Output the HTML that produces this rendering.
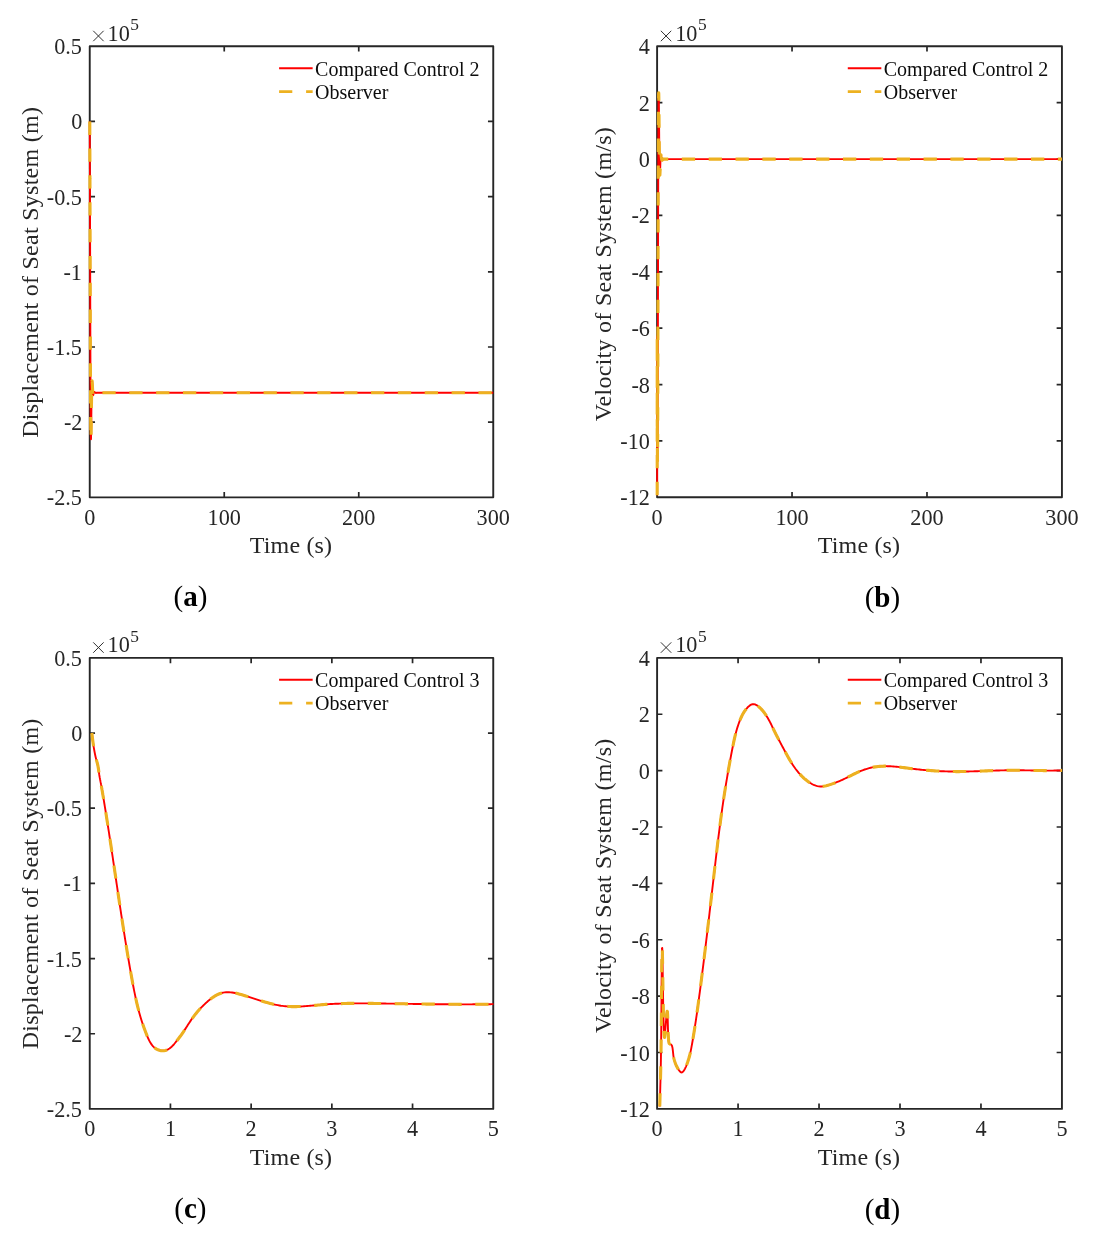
<!DOCTYPE html>
<html><head><meta charset="utf-8"><title>Figure</title>
<style>html,body{margin:0;padding:0;background:#fff}svg{display:block;will-change:transform}</style></head>
<body>
<svg width="1103" height="1240" viewBox="0 0 1103 1240" font-family="'Liberation Serif', serif" fill="#262626">
<rect width="1103" height="1240" fill="#fff"/>
<clipPath id="cpa"><rect x="87.74" y="44.3" width="407.51" height="455.05"/></clipPath>
<path d="M224.24,497.35v-5.3M224.24,46.3v5.3M358.75,497.35v-5.3M358.75,46.3v5.3M89.74,121.47h5.3M493.25,121.47h-5.3M89.74,196.65h5.3M493.25,196.65h-5.3M89.74,271.82h5.3M493.25,271.82h-5.3M89.74,347.00h5.3M493.25,347.00h-5.3M89.74,422.18h5.3M493.25,422.18h-5.3" stroke="#262626" stroke-width="1.7" fill="none"/>
<rect x="89.74" y="46.3" width="403.51" height="451.05" fill="none" stroke="#262626" stroke-width="1.9" stroke-linejoin="round"/>
<g clip-path="url(#cpa)" fill="none" stroke-linejoin="round">
<path d="M89.78,121.60 L89.78,122.36 L89.78,123.11 L89.78,123.86 L89.78,124.62 L89.78,125.37 L89.78,126.12 L89.79,126.88 L89.79,127.63 L89.79,128.38 L89.79,129.13 L89.79,129.88 L89.79,130.63 L89.80,131.38 L89.80,132.13 L89.80,132.88 L89.80,133.63 L89.80,134.38 L89.80,135.13 L89.81,135.88 L89.81,136.63 L89.81,137.37 L89.81,138.12 L89.82,138.87 L89.82,139.61 L89.82,140.36 L89.82,141.10 L89.82,141.85 L89.83,142.59 L89.83,143.33 L89.83,144.07 L89.84,144.81 L89.84,145.55 L89.84,146.29 L89.84,147.02 L89.85,147.75 L89.85,148.48 L89.85,149.21 L89.86,149.94 L89.86,150.67 L89.86,151.41 L89.87,152.14 L89.87,152.87 L89.87,153.61 L89.88,154.35 L89.88,155.09 L89.88,155.84 L89.88,156.59 L89.88,157.33 L89.89,158.08 L89.89,158.84 L89.89,159.59 L89.89,160.34 L89.89,161.09 L89.89,161.56 L89.90,162.05 L89.90,162.53 L89.90,162.99 L89.90,163.44 L89.90,163.88 L89.90,164.30 L89.90,164.71 L89.90,165.10 L89.90,165.49 L89.91,165.87 L89.91,166.24 L89.91,166.60 L89.91,166.96 L89.91,167.32 L89.91,167.67 L89.91,168.02 L89.91,168.37 L89.91,168.71 L89.92,169.05 L89.92,169.40 L89.92,169.74 L89.92,170.08 L89.92,170.43 L89.92,170.77 L89.92,171.12 L89.92,171.47 L89.92,171.81 L89.93,172.17 L89.93,172.52 L89.93,172.88 L89.93,173.24 L89.93,173.60 L89.93,173.97 L89.93,174.33 L89.93,174.70 L89.94,175.08 L89.94,175.45 L89.94,175.83 L89.94,176.21 L89.94,176.59 L89.94,176.97 L89.94,177.36 L89.94,177.74 L89.94,178.13 L89.95,178.52 L89.95,178.91 L89.95,179.30 L89.95,179.69 L89.95,180.09 L89.95,180.48 L89.95,180.88 L89.95,181.28 L89.95,181.67 L89.96,182.07 L89.96,182.47 L89.96,182.87 L89.96,183.27 L89.96,183.67 L89.96,184.08 L89.96,185.16 L89.97,186.70 L89.97,188.24 L89.98,189.79 L89.98,191.33 L89.99,192.88 L89.99,194.42 L89.99,195.97 L90.00,197.51 L90.00,199.06 L90.01,200.60 L90.01,202.15 L90.01,203.70 L90.02,205.25 L90.02,206.79 L90.03,208.34 L90.03,209.89 L90.04,211.44 L90.04,212.98 L90.04,214.53 L90.05,216.08 L90.05,217.63 L90.06,219.18 L90.06,220.73 L90.06,222.28 L90.07,223.83 L90.07,225.38 L90.08,226.92 L90.08,228.47 L90.08,230.02 L90.09,231.57 L90.09,233.13 L90.09,234.68 L90.10,236.23 L90.10,237.78 L90.11,239.33 L90.11,240.88 L90.11,242.43 L90.12,243.98 L90.12,245.53 L90.13,247.08 L90.13,248.63 L90.13,250.18 L90.14,251.74 L90.14,253.29 L90.14,254.84 L90.15,256.39 L90.15,257.94 L90.16,259.49 L90.16,261.04 L90.16,262.59 L90.17,264.15 L90.17,265.70 L90.18,267.25 L90.18,268.80 L90.18,270.35 L90.19,271.90 L90.19,273.45 L90.19,275.00 L90.20,276.55 L90.20,278.11 L90.21,279.66 L90.21,281.21 L90.21,282.76 L90.22,284.31 L90.22,285.86 L90.23,287.41 L90.23,288.96 L90.23,290.51 L90.24,292.06 L90.24,293.61 L90.25,295.16 L90.25,296.71 L90.25,298.26 L90.26,299.81 L90.26,301.35 L90.26,302.90 L90.27,304.45 L90.27,306.00 L90.28,307.55 L90.28,309.10 L90.28,310.64 L90.29,312.19 L90.29,313.74 L90.30,315.28 L90.30,316.83 L90.30,318.38 L90.31,319.92 L90.31,321.47 L90.32,323.01 L90.32,324.56 L90.33,326.11 L90.33,327.65 L90.33,329.19 L90.34,330.74 L90.34,332.28 L90.35,333.83 L90.35,335.37 L90.35,336.91 L90.36,338.45 L90.36,340.00 L90.37,341.54 L90.37,343.08 L90.38,344.62 L90.38,346.16 L90.38,347.70 L90.39,349.24 L90.39,350.78 L90.40,352.32 L90.40,353.86 L90.41,355.40 L90.41,356.93 L90.42,358.47 L90.42,360.01 L90.42,361.54 L90.43,363.08 L90.43,364.62 L90.44,366.15 L90.44,367.68 L90.45,369.22 L90.45,370.75 L90.46,372.29 L90.46,373.82 L90.47,375.35 L90.47,376.88 L90.48,378.41 L90.48,379.94 L90.49,381.47 L90.49,383.00 L90.50,384.53 L90.50,386.05 L90.51,387.58 L90.52,389.10 L90.52,390.63 L90.53,392.15 L90.53,393.67 L90.54,395.20 L90.55,396.72 L90.55,398.24 L90.56,399.76 L90.57,401.27 L90.57,402.79 L90.58,404.31 L90.59,405.82 L90.59,407.33 L90.60,408.85 L90.61,410.36 L90.62,411.87 L90.63,413.38 L90.64,414.88 L90.64,416.39 L90.65,417.89 L90.66,419.40 L90.67,420.90 L90.68,422.40 L90.69,423.90 L90.70,425.40 L90.71,426.89 L90.73,428.36 L90.74,429.80 L90.75,431.19 L90.76,432.52 L90.78,433.77 L90.80,434.94 L90.81,436.00 L90.83,436.94 L90.86,437.74 L90.88,438.40 L90.90,438.90 L90.93,439.22 L90.95,439.35 L90.98,439.29 L91.00,439.03 L91.02,438.57 L91.05,437.91 L91.07,437.09 L91.09,436.12 L91.11,435.03 L91.13,433.85 L91.15,432.61 L91.17,431.34 L91.18,430.05 L91.20,428.79 L91.21,427.56 L91.23,426.35 L91.25,425.14 L91.26,423.92 L91.28,422.67 L91.29,421.40 L91.30,420.10 L91.32,418.79 L91.33,417.46 L91.35,416.13 L91.36,414.79 L91.38,413.45 L91.39,412.12 L91.41,410.79 L91.42,409.48 L91.43,408.18 L91.45,406.91 L91.46,405.66 L91.48,404.43 L91.50,403.22 L91.51,402.03 L91.53,400.85 L91.54,399.70 L91.56,398.55 L91.58,397.41 L91.60,396.29 L91.61,395.17 L91.63,394.06 L91.65,392.96 L91.67,391.86 L91.69,390.76 L91.71,389.68 L91.73,388.63 L91.75,387.60 L91.78,386.62 L91.80,385.68 L91.82,384.81 L91.84,384.00 L91.87,383.26 L91.89,382.62 L91.92,382.06 L91.94,381.61 L91.96,381.26 L91.99,381.02 L92.01,380.87 L92.04,380.82 L92.06,380.85 L92.09,380.95 L92.11,381.12 L92.14,381.35 L92.16,381.63 L92.19,381.96 L92.21,382.33 L92.24,382.73 L92.26,383.15 L92.29,383.58 L92.31,384.03 L92.34,384.50 L92.36,384.97 L92.39,385.45 L92.42,385.94 L92.44,386.43 L92.47,386.92 L92.49,387.42 L92.52,387.91 L92.54,388.40 L92.57,388.89 L92.59,389.38 L92.62,389.85 L92.64,390.31 L92.67,390.77 L92.70,391.21 L92.72,391.64 L92.75,392.04 L92.77,392.44 L92.80,392.81 L92.82,393.16 L92.85,393.48 L92.87,393.78 L92.90,394.05 L92.93,394.30 L92.95,394.51 L92.98,394.69 L93.00,394.84 L93.03,394.97 L93.05,395.06 L93.08,395.13 L93.11,395.18 L93.13,395.20 L93.16,395.20 L93.18,395.19 L93.21,395.15 L93.23,395.10 L93.26,395.03 L93.29,394.95 L93.31,394.85 L93.34,394.74 L93.36,394.63 L93.39,394.50 L93.42,394.37 L93.44,394.23 L93.47,394.09 L93.49,393.95 L93.52,393.80 L93.55,393.66 L93.57,393.52 L93.60,393.38 L93.62,393.24 L93.65,393.11 L93.67,392.99 L93.70,392.88 L93.73,392.77 L93.75,392.67 L93.78,392.58 L93.81,392.50 L93.83,392.42 L93.86,392.35 L93.88,392.29 L93.91,392.23 L93.94,392.18 L93.96,392.13 L93.99,392.09 L94.01,392.05 L94.04,392.02 L94.07,392.00 L94.09,391.98 L94.12,391.96 L94.14,391.95 L94.17,391.94 L94.20,391.93 L94.22,391.93 L94.25,391.93 L94.27,391.93 L94.30,391.94 L94.33,391.94 L94.35,391.96 L94.38,391.97 L94.41,391.98 L94.43,392.00 L94.46,392.01 L94.48,392.03 L94.51,392.05 L94.54,392.07 L94.56,392.09 L94.59,392.10 L94.61,392.12 L94.64,392.14 L94.67,392.16 L94.69,392.18 L94.72,392.20 L94.75,392.23 L94.77,392.25 L94.80,392.27 L94.82,392.29 L94.85,392.31 L94.88,392.33 L94.90,392.35 L94.93,392.37 L94.96,392.39 L94.98,392.41 L95.01,392.43 L95.03,392.45 L95.06,392.48 L95.09,392.50 L95.11,392.52 L95.14,392.54 L95.16,392.56 L95.19,392.58 L95.22,392.60 L95.24,392.61 L95.27,392.63 L95.30,392.65 L95.32,392.67 L95.35,392.69 L95.37,392.70 L95.40,392.72 L95.43,392.74 L95.45,392.75 L95.48,392.77 L95.51,392.78 L95.53,392.80 L95.56,392.81 L95.58,392.83 L95.61,392.84 L95.64,392.85 L95.66,392.86 L95.69,392.87 L95.71,392.88 L95.74,392.89 L95.77,392.90 L95.79,392.91 L95.82,392.91 L95.85,392.92 L95.87,392.92 L95.90,392.93 L95.92,392.93 L95.95,392.93 L95.98,392.94 L96.00,392.94 L96.03,392.94 L96.05,392.93 L96.08,392.93 L96.11,392.93 L96.13,392.92 L96.16,392.92 L96.18,392.91 L96.21,392.90 L96.24,392.89 L96.26,392.88 L96.29,392.87 L96.31,392.86 L96.34,392.84 L96.37,392.83 L96.39,392.81 L96.42,392.79 L96.44,392.77 L96.47,392.75 L493.25,392.75" stroke="#ff0000" stroke-width="1.9"/>
<path d="M89.78,121.60 L89.78,122.36 L89.78,123.11 L89.78,123.86 L89.78,124.62 L89.78,125.37 L89.78,126.12 L89.79,126.88 L89.79,127.63 L89.79,128.38 L89.79,129.13 L89.79,129.88 L89.79,130.63 L89.80,131.38 L89.80,132.13 L89.80,132.88 L89.80,133.63 L89.80,134.38 L89.80,135.13 L89.81,135.88 L89.81,136.63 L89.81,137.37 L89.81,138.12 L89.82,138.87 L89.82,139.61 L89.82,140.36 L89.82,141.10 L89.82,141.85 L89.83,142.59 L89.83,143.33 L89.83,144.07 L89.84,144.81 L89.84,145.55 L89.84,146.29 L89.84,147.02 L89.85,147.75 L89.85,148.48 L89.85,149.21 L89.86,149.94 L89.86,150.67 L89.86,151.41 L89.87,152.14 L89.87,152.87 L89.87,153.61 L89.88,154.35 L89.88,155.09 L89.88,155.84 L89.88,156.59 L89.88,157.33 L89.89,158.08 L89.89,158.84 L89.89,159.59 L89.89,160.34 L89.89,161.09 L89.89,161.56 L89.90,162.05 L89.90,162.53 L89.90,162.99 L89.90,163.44 L89.90,163.88 L89.90,164.30 L89.90,164.71 L89.90,165.10 L89.90,165.49 L89.91,165.87 L89.91,166.24 L89.91,166.60 L89.91,166.96 L89.91,167.32 L89.91,167.67 L89.91,168.02 L89.91,168.37 L89.91,168.71 L89.92,169.05 L89.92,169.40 L89.92,169.74 L89.92,170.08 L89.92,170.43 L89.92,170.77 L89.92,171.12 L89.92,171.47 L89.92,171.81 L89.93,172.17 L89.93,172.52 L89.93,172.88 L89.93,173.24 L89.93,173.60 L89.93,173.97 L89.93,174.33 L89.93,174.70 L89.94,175.08 L89.94,175.45 L89.94,175.83 L89.94,176.21 L89.94,176.59 L89.94,176.97 L89.94,177.36 L89.94,177.74 L89.94,178.13 L89.95,178.52 L89.95,178.91 L89.95,179.30 L89.95,179.69 L89.95,180.09 L89.95,180.48 L89.95,180.88 L89.95,181.28 L89.95,181.67 L89.96,182.07 L89.96,182.47 L89.96,182.87 L89.96,183.27 L89.96,183.67 L89.96,184.08 L89.96,185.16 L89.97,186.70 L89.97,188.24 L89.98,189.79 L89.98,191.33 L89.99,192.88 L89.99,194.42 L89.99,195.97 L90.00,197.51 L90.00,199.06 L90.01,200.60 L90.01,202.15 L90.01,203.70 L90.02,205.25 L90.02,206.79 L90.03,208.34 L90.03,209.89 L90.04,211.44 L90.04,212.98 L90.04,214.53 L90.05,216.08 L90.05,217.63 L90.06,219.18 L90.06,220.73 L90.06,222.28 L90.07,223.83 L90.07,225.38 L90.08,226.92 L90.08,228.47 L90.08,230.02 L90.09,231.57 L90.09,233.13 L90.09,234.68 L90.10,236.23 L90.10,237.78 L90.11,239.33 L90.11,240.88 L90.11,242.43 L90.12,243.98 L90.12,245.53 L90.13,247.08 L90.13,248.63 L90.13,250.18 L90.14,251.74 L90.14,253.29 L90.14,254.84 L90.15,256.39 L90.15,257.94 L90.16,259.49 L90.16,261.04 L90.16,262.59 L90.17,264.15 L90.17,265.70 L90.18,267.25 L90.18,268.80 L90.18,270.35 L90.19,271.90 L90.19,273.45 L90.19,275.00 L90.20,276.55 L90.20,278.11 L90.21,279.66 L90.21,281.21 L90.21,282.76 L90.22,284.31 L90.22,285.86 L90.23,287.41 L90.23,288.96 L90.23,290.51 L90.24,292.06 L90.24,293.61 L90.25,295.16 L90.25,296.71 L90.25,298.26 L90.26,299.81 L90.26,301.35 L90.26,302.90 L90.27,304.45 L90.27,306.00 L90.28,307.55 L90.28,309.10 L90.28,310.64 L90.29,312.19 L90.29,313.74 L90.30,315.28 L90.30,316.83 L90.30,318.38 L90.31,319.92 L90.31,321.47 L90.32,323.01 L90.32,324.56 L90.33,326.11 L90.33,327.65 L90.33,329.19 L90.34,330.74 L90.34,332.28 L90.35,333.83 L90.35,335.37 L90.35,336.91 L90.36,338.45 L90.36,340.00 L90.37,341.54 L90.37,343.08 L90.38,344.62 L90.38,346.16 L90.38,347.70 L90.39,349.24 L90.39,350.78 L90.40,352.32 L90.40,353.86 L90.41,355.40 L90.41,356.93 L90.42,358.47 L90.42,360.01 L90.42,361.54 L90.43,363.08 L90.43,364.62 L90.44,366.15 L90.44,367.68 L90.45,369.22 L90.45,370.75 L90.46,372.29 L90.46,373.82 L90.47,375.35 L90.47,376.88 L90.48,378.41 L90.48,379.94 L90.49,381.47 L90.49,383.00 L90.50,384.53 L90.50,386.05 L90.51,387.58 L90.52,389.10 L90.52,390.63 L90.53,392.15 L90.53,393.67 L90.54,395.20 L90.55,396.72 L90.55,398.24 L90.56,399.76 L90.57,401.27 L90.57,402.79 L90.58,404.31 L90.59,405.82 L90.59,407.33 L90.60,408.85 L90.61,410.36 L90.62,411.87 L90.63,413.38 L90.64,414.88 L90.64,416.39 L90.65,417.89 L90.66,419.40 L90.67,420.90 L90.68,422.40 L90.69,423.90 L90.70,425.40 L90.71,426.89 L90.73,428.36 L90.74,429.80 L90.75,431.19 L90.76,432.52 L90.78,433.77 L90.80,434.94 L90.81,436.00 L90.83,436.94 L90.86,437.74 L90.88,438.40 L90.90,438.90 L90.93,439.22 L90.95,439.35 L90.98,439.29 L91.00,439.03 L91.02,438.57 L91.05,437.91 L91.07,437.09 L91.09,436.12 L91.11,435.03 L91.13,433.85 L91.15,432.61 L91.17,431.34 L91.18,430.05 L91.20,428.79 L91.21,427.56 L91.23,426.35 L91.25,425.14 L91.26,423.92 L91.28,422.67 L91.29,421.40 L91.30,420.10 L91.32,418.79 L91.33,417.46 L91.35,416.13 L91.36,414.79 L91.38,413.45 L91.39,412.12 L91.41,410.79 L91.42,409.48 L91.43,408.18 L91.45,406.91 L91.46,405.66 L91.48,404.43 L91.50,403.22 L91.51,402.03 L91.53,400.85 L91.54,399.70 L91.56,398.55 L91.58,397.41 L91.60,396.29 L91.61,395.17 L91.63,394.06 L91.65,392.96 L91.67,391.86 L91.69,390.76 L91.71,389.68 L91.73,388.63 L91.75,387.60 L91.78,386.62 L91.80,385.68 L91.82,384.81 L91.84,384.00 L91.87,383.26 L91.89,382.62 L91.92,382.06 L91.94,381.61 L91.96,381.26 L91.99,381.02 L92.01,380.87 L92.04,380.82 L92.06,380.85 L92.09,380.95 L92.11,381.12 L92.14,381.35 L92.16,381.63 L92.19,381.96 L92.21,382.33 L92.24,382.73 L92.26,383.15 L92.29,383.58 L92.31,384.03 L92.34,384.50 L92.36,384.97 L92.39,385.45 L92.42,385.94 L92.44,386.43 L92.47,386.92 L92.49,387.42 L92.52,387.91 L92.54,388.40 L92.57,388.89 L92.59,389.38 L92.62,389.85 L92.64,390.31 L92.67,390.77 L92.70,391.21 L92.72,391.64 L92.75,392.04 L92.77,392.44 L92.80,392.81 L92.82,393.16 L92.85,393.48 L92.87,393.78 L92.90,394.05 L92.93,394.30 L92.95,394.51 L92.98,394.69 L93.00,394.84 L93.03,394.97 L93.05,395.06 L93.08,395.13 L93.11,395.18 L93.13,395.20 L93.16,395.20 L93.18,395.19 L93.21,395.15 L93.23,395.10 L93.26,395.03 L93.29,394.95 L93.31,394.85 L93.34,394.74 L93.36,394.63 L93.39,394.50 L93.42,394.37 L93.44,394.23 L93.47,394.09 L93.49,393.95 L93.52,393.80 L93.55,393.66 L93.57,393.52 L93.60,393.38 L93.62,393.24 L93.65,393.11 L93.67,392.99 L93.70,392.88 L93.73,392.77 L93.75,392.67 L93.78,392.58 L93.81,392.50 L93.83,392.42 L93.86,392.35 L93.88,392.29 L93.91,392.23 L93.94,392.18 L93.96,392.13 L93.99,392.09 L94.01,392.05 L94.04,392.02 L94.07,392.00 L94.09,391.98 L94.12,391.96 L94.14,391.95 L94.17,391.94 L94.20,391.93 L94.22,391.93 L94.25,391.93 L94.27,391.93 L94.30,391.94 L94.33,391.94 L94.35,391.96 L94.38,391.97 L94.41,391.98 L94.43,392.00 L94.46,392.01 L94.48,392.03 L94.51,392.05 L94.54,392.07 L94.56,392.09 L94.59,392.10 L94.61,392.12 L94.64,392.14 L94.67,392.16 L94.69,392.18 L94.72,392.20 L94.75,392.23 L94.77,392.25 L94.80,392.27 L94.82,392.29 L94.85,392.31 L94.88,392.33 L94.90,392.35 L94.93,392.37 L94.96,392.39 L94.98,392.41 L95.01,392.43 L95.03,392.45 L95.06,392.48 L95.09,392.50 L95.11,392.52 L95.14,392.54 L95.16,392.56 L95.19,392.58 L95.22,392.60 L95.24,392.61 L95.27,392.63 L95.30,392.65 L95.32,392.67 L95.35,392.69 L95.37,392.70 L95.40,392.72 L95.43,392.74 L95.45,392.75 L95.48,392.77 L95.51,392.78 L95.53,392.80 L95.56,392.81 L95.58,392.83 L95.61,392.84 L95.64,392.85 L95.66,392.86 L95.69,392.87 L95.71,392.88 L95.74,392.89 L95.77,392.90 L95.79,392.91 L95.82,392.91 L95.85,392.92 L95.87,392.92 L95.90,392.93 L95.92,392.93 L95.95,392.93 L95.98,392.94 L96.00,392.94 L96.03,392.94 L96.05,392.93 L96.08,392.93 L96.11,392.93 L96.13,392.92 L96.16,392.92 L96.18,392.91 L96.21,392.90 L96.24,392.89 L96.26,392.88 L96.29,392.87 L96.31,392.86 L96.34,392.84 L96.37,392.83 L96.39,392.81 L96.42,392.79 L96.44,392.77 L96.47,392.75 L493.25,392.75" stroke="#edb120" stroke-width="3.1" stroke-dasharray="13.3 13.56"/>
</g>
<text x="89.74" y="524.75" font-size="22.2" text-anchor="middle">0</text>
<text x="224.24" y="524.75" font-size="22.2" text-anchor="middle">100</text>
<text x="358.75" y="524.75" font-size="22.2" text-anchor="middle">200</text>
<text x="493.25" y="524.75" font-size="22.2" text-anchor="middle">300</text>
<text x="81.89" y="54.30" font-size="22.2" text-anchor="end">0.5</text>
<text x="82.39" y="129.47" font-size="22.2" text-anchor="end">0</text>
<text x="81.89" y="204.65" font-size="22.2" text-anchor="end">-0.5</text>
<text x="81.89" y="279.82" font-size="22.2" text-anchor="end">-1</text>
<text x="81.89" y="355.00" font-size="22.2" text-anchor="end">-1.5</text>
<text x="82.39" y="430.18" font-size="22.2" text-anchor="end">-2</text>
<text x="81.89" y="505.35" font-size="22.2" text-anchor="end">-2.5</text>
<path d="M93.24,30.80L103.64,41.20M93.24,41.20L103.64,30.80" stroke="#262626" stroke-width="0.95" fill="none"/>
<text x="107.54" y="40.90" font-size="22.2">10</text>
<text x="130.34" y="30.30" font-size="17.4">5</text>
<text x="291.00" y="552.95" font-size="24.0" letter-spacing="0.17" text-anchor="middle">Time (s)</text>
<text transform="translate(38.0,272.32) rotate(-90)" font-size="24.0" letter-spacing="0.27" text-anchor="middle">Displacement of Seat System (m)</text>
<path d="M279.10,68.25H312.65" stroke="#ff0000" stroke-width="1.9"/>
<path d="M279.10,91.60H312.65" stroke="#edb120" stroke-width="2.9" stroke-dasharray="13.2 13.8"/>
<text x="315.10" y="75.70" font-size="20.0" fill="#0c0c0c">Compared Control 2</text>
<text x="315.10" y="98.90" font-size="20.0" fill="#0c0c0c">Observer</text>
<clipPath id="cpb"><rect x="655.1" y="44.3" width="408.83000000000004" height="455.0"/></clipPath>
<path d="M792.04,497.3v-5.3M792.04,46.3v5.3M926.99,497.3v-5.3M926.99,46.3v5.3M657.1,102.67h5.3M1061.93,102.67h-5.3M657.1,159.05h5.3M1061.93,159.05h-5.3M657.1,215.43h5.3M1061.93,215.43h-5.3M657.1,271.80h5.3M1061.93,271.80h-5.3M657.1,328.18h5.3M1061.93,328.18h-5.3M657.1,384.55h5.3M1061.93,384.55h-5.3M657.1,440.93h5.3M1061.93,440.93h-5.3" stroke="#262626" stroke-width="1.7" fill="none"/>
<rect x="657.1" y="46.3" width="404.83" height="451.00" fill="none" stroke="#262626" stroke-width="1.9" stroke-linejoin="round"/>
<g clip-path="url(#cpb)" fill="none" stroke-linejoin="round">
<path d="M657.14,495.15 L657.14,493.94 L657.15,492.74 L657.15,491.53 L657.15,490.32 L657.15,489.12 L657.15,487.91 L657.15,486.71 L657.15,485.50 L657.15,484.29 L657.15,483.09 L657.15,481.88 L657.15,480.67 L657.15,479.47 L657.15,478.26 L657.15,477.05 L657.15,475.85 L657.15,474.64 L657.15,473.43 L657.15,472.23 L657.16,471.02 L657.16,469.81 L657.16,468.61 L657.16,467.40 L657.16,466.20 L657.16,464.99 L657.16,463.78 L657.16,462.58 L657.16,461.37 L657.16,460.16 L657.16,458.96 L657.16,457.75 L657.16,456.54 L657.16,455.34 L657.16,454.13 L657.16,452.92 L657.16,451.72 L657.16,450.51 L657.16,449.30 L657.16,448.09 L657.16,446.86 L657.16,445.61 L657.16,444.33 L657.16,443.02 L657.17,441.70 L657.17,440.35 L657.17,438.98 L657.17,437.60 L657.17,436.19 L657.17,434.77 L657.17,433.33 L657.17,431.87 L657.17,430.40 L657.17,428.91 L657.17,427.41 L657.17,425.89 L657.17,424.37 L657.17,422.83 L657.17,421.28 L657.17,419.72 L657.17,418.15 L657.17,416.58 L657.17,415.00 L657.17,413.41 L657.17,411.81 L657.17,410.22 L657.17,408.61 L657.17,407.01 L657.17,405.40 L657.17,403.79 L657.17,402.18 L657.17,400.57 L657.17,398.97 L657.17,397.36 L657.17,395.76 L657.17,394.16 L657.17,392.57 L657.17,390.98 L657.17,389.40 L657.17,387.82 L657.17,386.25 L657.17,384.70 L657.17,383.15 L657.17,381.61 L657.17,380.08 L657.17,378.57 L657.17,377.07 L657.17,375.58 L657.17,374.11 L657.18,372.65 L657.18,371.21 L657.18,369.78 L657.18,368.38 L657.18,366.99 L657.18,365.62 L657.18,364.28 L657.18,362.95 L657.18,361.65 L657.18,360.37 L657.18,359.11 L657.18,357.88 L657.18,356.67 L657.18,355.50 L657.18,354.34 L657.18,353.22 L657.18,352.12 L657.18,351.06 L657.18,350.03 L657.18,349.02 L657.18,348.05 L657.18,347.11 L657.18,346.21 L657.18,345.34 L657.18,344.51 L657.18,343.71 L657.18,342.95 L657.18,342.23 L657.18,341.55 L657.18,340.91 L657.18,340.31 L657.18,339.75 L657.18,339.23 L657.18,338.76 L657.18,338.33 L657.18,337.94 L657.18,337.60 L657.18,337.31 L657.18,337.06 L657.18,336.87 L657.18,336.72 L657.18,336.62 L657.18,336.57 L657.19,336.58 L657.19,336.69 L657.19,336.89 L657.19,337.17 L657.19,337.55 L657.19,338.01 L657.19,338.56 L657.19,339.18 L657.19,339.88 L657.19,340.66 L657.19,341.51 L657.19,342.43 L657.19,343.41 L657.19,344.46 L657.19,345.58 L657.19,346.75 L657.19,347.98 L657.19,349.26 L657.19,350.59 L657.19,351.97 L657.19,353.40 L657.19,354.87 L657.19,356.39 L657.19,357.94 L657.19,359.52 L657.19,361.14 L657.19,362.79 L657.19,364.47 L657.19,366.17 L657.20,367.89 L657.20,369.64 L657.20,371.40 L657.20,373.18 L657.20,374.97 L657.20,376.76 L657.20,378.57 L657.20,380.37 L657.20,382.18 L657.20,383.99 L657.20,385.80 L657.20,387.60 L657.20,389.38 L657.20,391.16 L657.20,392.93 L657.20,394.67 L657.20,396.40 L657.20,398.10 L657.20,399.78 L657.20,401.43 L657.21,403.06 L657.21,404.65 L657.21,406.20 L657.21,407.72 L657.21,409.19 L657.21,410.62 L657.21,412.01 L657.21,413.35 L657.21,414.63 L657.21,415.87 L657.21,417.04 L657.21,418.16 L657.21,419.22 L657.21,420.21 L657.21,421.14 L657.22,421.99 L657.22,422.78 L657.22,423.48 L657.22,424.12 L657.22,424.67 L657.22,425.14 L657.22,425.52 L657.22,425.82 L657.22,426.02 L657.22,426.14 L657.22,426.14 L657.22,425.88 L657.23,425.33 L657.23,424.52 L657.23,423.48 L657.23,422.24 L657.23,420.83 L657.24,419.28 L657.24,417.63 L657.24,415.89 L657.24,414.11 L657.25,412.31 L657.25,410.53 L657.25,408.78 L657.25,407.11 L657.26,405.54 L657.26,404.11 L657.26,402.84 L657.26,401.76 L657.26,400.91 L657.27,400.31 L657.27,400.00 L657.27,399.99 L657.27,400.20 L657.27,400.60 L657.27,401.18 L657.27,401.93 L657.27,402.83 L657.28,403.86 L657.28,405.02 L657.28,406.29 L657.28,407.66 L657.28,409.11 L657.28,410.62 L657.28,412.19 L657.28,413.80 L657.28,415.43 L657.28,417.08 L657.28,418.72 L657.28,420.35 L657.28,421.95 L657.29,423.50 L657.29,425.00 L657.29,426.42 L657.29,427.75 L657.29,428.99 L657.29,430.11 L657.30,431.10 L657.30,431.95 L657.31,432.61 L657.33,433.18 L657.34,433.91 L657.35,434.82 L657.35,435.84 L657.36,436.97 L657.36,438.18 L657.36,439.46 L657.37,440.77 L657.37,442.10 L657.37,443.43 L657.37,444.73 L657.38,445.98 L657.38,447.17 L657.39,448.34 L657.39,449.51 L657.40,450.69 L657.40,451.85 L657.41,453.00 L657.42,454.12 L657.43,455.21 L657.44,456.25 L657.45,457.28 L657.46,458.46 L657.47,459.63 L657.49,460.58 L657.50,461.11 L657.52,461.04 L657.53,460.43 L657.53,460.28 L657.53,460.14 L657.54,460.00 L657.54,459.87 L657.54,459.73 L657.54,459.59 L657.54,459.44 L657.55,459.26 L657.55,459.08 L657.55,458.90 L657.55,458.71 L657.55,458.52 L657.56,458.33 L657.56,458.14 L657.56,457.91 L657.56,457.69 L657.56,457.47 L657.57,457.24 L657.57,457.01 L657.57,456.78 L657.57,456.53 L657.57,456.28 L657.58,456.02 L657.58,455.77 L657.58,455.51 L657.58,455.23 L657.58,454.94 L657.59,454.66 L657.59,454.37 L657.59,454.07 L657.59,453.76 L657.59,453.45 L657.59,453.13 L657.60,452.80 L657.60,452.48 L657.60,452.15 L657.60,451.81 L657.60,451.46 L657.61,451.12 L657.61,450.78 L657.61,450.43 L657.61,450.07 L657.61,449.71 L657.62,449.36 L657.62,449.00 L657.62,448.63 L657.62,448.26 L657.62,447.89 L657.63,447.52 L657.63,447.13 L657.63,446.74 L657.63,446.35 L657.63,445.95 L657.64,445.53 L657.64,445.11 L657.64,444.68 L657.64,444.23 L657.64,443.78 L657.65,443.32 L657.65,442.83 L657.65,441.70 L657.66,440.24 L657.66,438.77 L657.67,437.31 L657.67,435.83 L657.68,434.36 L657.68,432.88 L657.69,431.40 L657.69,429.91 L657.69,428.42 L657.70,426.93 L657.70,425.44 L657.71,423.94 L657.71,422.44 L657.72,420.93 L657.72,419.43 L657.72,417.92 L657.73,416.41 L657.73,414.90 L657.74,413.38 L657.74,411.87 L657.74,410.35 L657.75,408.83 L657.75,407.31 L657.75,405.78 L657.76,404.26 L657.76,402.73 L657.77,401.20 L657.77,399.68 L657.77,398.15 L657.78,396.62 L657.78,395.08 L657.78,393.55 L657.79,392.02 L657.79,390.49 L657.79,388.96 L657.80,387.42 L657.80,385.89 L657.80,384.36 L657.81,382.82 L657.81,381.29 L657.81,379.76 L657.82,378.23 L657.82,376.69 L657.82,375.16 L657.83,373.63 L657.83,372.10 L657.83,370.57 L657.84,369.04 L657.84,367.51 L657.84,365.98 L657.85,364.45 L657.85,362.92 L657.85,361.39 L657.86,359.86 L657.86,358.33 L657.86,356.81 L657.87,355.28 L657.87,353.75 L657.87,352.22 L657.88,350.70 L657.88,349.17 L657.88,347.64 L657.89,346.12 L657.89,344.59 L657.89,343.06 L657.89,341.54 L657.90,340.01 L657.90,338.49 L657.90,336.96 L657.91,335.44 L657.91,333.91 L657.91,332.39 L657.92,330.86 L657.92,329.34 L657.92,327.81 L657.93,326.29 L657.93,324.76 L657.93,323.24 L657.93,321.72 L657.94,320.19 L657.94,318.67 L657.94,317.15 L657.95,315.62 L657.95,314.10 L657.95,312.58 L657.96,311.06 L657.96,309.53 L657.96,308.01 L657.96,306.49 L657.97,304.97 L657.97,303.44 L657.97,301.92 L657.98,300.40 L657.98,298.88 L657.98,297.35 L657.99,295.83 L657.99,294.31 L657.99,292.79 L657.99,291.27 L658.00,289.75 L658.00,288.22 L658.00,286.70 L658.01,285.18 L658.01,283.66 L658.01,282.14 L658.01,280.61 L658.02,279.09 L658.02,277.57 L658.02,276.05 L658.03,274.53 L658.03,273.01 L658.03,271.49 L658.04,269.96 L658.04,268.44 L658.04,266.92 L658.04,265.40 L658.05,263.88 L658.05,262.35 L658.05,260.83 L658.06,259.31 L658.06,257.79 L658.06,256.27 L658.06,254.74 L658.07,253.22 L658.07,251.70 L658.07,250.18 L658.08,248.66 L658.08,247.13 L658.08,245.61 L658.09,244.09 L658.09,242.57 L658.09,241.04 L658.09,239.52 L658.10,238.00 L658.10,236.48 L658.10,234.95 L658.11,233.43 L658.11,231.91 L658.11,230.39 L658.12,228.86 L658.12,227.34 L658.12,225.82 L658.13,224.30 L658.13,222.77 L658.13,221.25 L658.14,219.73 L658.14,218.21 L658.14,216.68 L658.14,215.16 L658.15,213.64 L658.15,212.12 L658.15,210.60 L658.16,209.07 L658.16,207.55 L658.17,206.03 L658.17,204.51 L658.17,202.99 L658.18,201.47 L658.18,199.94 L658.18,198.42 L658.19,196.90 L658.19,195.38 L658.19,193.86 L658.20,192.34 L658.20,190.82 L658.21,189.30 L658.21,187.78 L658.21,186.25 L658.22,184.73 L658.22,183.21 L658.22,181.69 L658.23,180.17 L658.23,178.65 L658.24,177.13 L658.24,175.61 L658.24,174.09 L658.25,172.58 L658.25,171.06 L658.26,169.54 L658.26,168.02 L658.27,166.50 L658.27,164.98 L658.27,163.46 L658.28,161.94 L658.28,160.43 L658.29,158.91 L658.29,157.39 L658.30,155.87 L658.30,154.36 L658.31,152.84 L658.31,151.32 L658.31,149.81 L658.32,148.29 L658.32,146.77 L658.33,145.26 L658.33,143.74 L658.34,142.23 L658.34,140.71 L658.35,139.20 L658.35,137.68 L658.36,136.17 L658.36,134.65 L658.37,133.14 L658.37,131.63 L658.38,130.13 L658.38,128.62 L658.39,127.12 L658.40,125.62 L658.40,124.13 L658.41,122.65 L658.41,121.17 L658.42,119.69 L658.43,118.23 L658.44,116.77 L658.44,115.32 L658.45,113.88 L658.46,112.45 L658.47,111.02 L658.48,109.61 L658.49,108.21 L658.50,106.82 L658.51,105.45 L658.52,104.08 L658.53,102.73 L658.54,101.40 L658.56,100.07 L658.57,98.77 L658.59,97.48 L658.61,96.23 L658.63,95.10 L658.65,94.13 L658.67,93.39 L658.69,92.94 L658.71,92.85 L658.73,93.13 L658.75,93.73 L658.78,94.56 L658.80,95.57 L658.82,96.69 L658.84,97.85 L658.85,99.04 L658.87,100.26 L658.89,101.52 L658.90,102.79 L658.92,104.09 L658.93,105.41 L658.94,106.75 L658.96,108.11 L658.97,109.47 L658.98,110.85 L658.99,112.24 L659.01,113.62 L659.02,115.02 L659.03,116.41 L659.04,117.80 L659.05,119.18 L659.06,120.56 L659.07,121.92 L659.08,123.28 L659.10,124.63 L659.11,125.98 L659.12,127.32 L659.13,128.66 L659.14,130.00 L659.15,131.34 L659.17,132.68 L659.18,134.02 L659.19,135.37 L659.20,136.72 L659.21,138.07 L659.23,139.43 L659.24,140.79 L659.25,142.14 L659.26,143.50 L659.28,144.86 L659.29,146.21 L659.30,147.55 L659.31,148.88 L659.33,150.21 L659.34,151.53 L659.35,152.83 L659.37,154.12 L659.38,155.40 L659.40,156.66 L659.41,157.90 L659.43,159.12 L659.44,160.32 L659.46,161.50 L659.48,162.65 L659.49,163.78 L659.51,164.88 L659.53,165.95 L659.55,166.99 L659.57,168.00 L659.59,168.98 L659.61,169.92 L659.63,170.82 L659.65,171.68 L659.68,172.48 L659.70,173.20 L659.72,173.82 L659.75,174.35 L659.77,174.75 L659.79,175.01 L659.82,175.13 L659.84,175.11 L659.87,174.98 L659.89,174.73 L659.92,174.40 L659.95,174.00 L659.97,173.55 L660.00,173.06 L660.02,172.55 L660.04,172.02 L660.07,171.48 L660.09,170.92 L660.12,170.34 L660.14,169.74 L660.16,169.13 L660.19,168.49 L660.21,167.84 L660.23,167.18 L660.26,166.51 L660.28,165.83 L660.30,165.14 L660.32,164.46 L660.35,163.77 L660.37,163.09 L660.39,162.42 L660.41,161.76 L660.44,161.12 L660.46,160.49 L660.49,159.88 L660.51,159.30 L660.53,158.74 L660.56,158.21 L660.58,157.72 L660.61,157.25 L660.63,156.83 L660.66,156.45 L660.68,156.12 L660.71,155.82 L660.74,155.57 L660.76,155.36 L660.79,155.19 L660.81,155.06 L660.84,154.96 L660.86,154.89 L660.89,154.86 L660.91,154.85 L660.94,154.87 L660.96,154.91 L660.99,154.98 L661.01,155.07 L661.04,155.18 L661.06,155.31 L661.09,155.45 L661.12,155.61 L661.14,155.78 L661.17,155.96 L661.19,156.14 L661.22,156.34 L661.24,156.53 L661.27,156.73 L661.29,156.93 L661.32,157.13 L661.34,157.33 L661.37,157.52 L661.39,157.70 L661.42,157.88 L661.45,158.05 L661.47,158.22 L661.50,158.38 L661.52,158.53 L661.55,158.68 L661.57,158.82 L661.60,158.95 L661.62,159.08 L661.65,159.20 L661.68,159.31 L661.70,159.42 L661.73,159.52 L661.75,159.62 L661.78,159.71 L661.80,159.79 L661.83,159.87 L661.85,159.94 L661.88,160.00 L661.91,160.05 L661.93,160.10 L661.96,160.15 L661.98,160.19 L662.01,160.22 L662.03,160.24 L662.06,160.26 L662.08,160.27 L662.11,160.27 L662.14,160.27 L662.16,160.26 L662.19,160.25 L662.21,160.23 L662.24,160.20 L662.26,160.17 L662.29,160.14 L662.31,160.10 L662.34,160.06 L662.37,160.02 L662.39,159.97 L662.42,159.92 L662.44,159.87 L662.47,159.82 L662.49,159.77 L662.52,159.71 L662.54,159.65 L662.57,159.60 L662.60,159.54 L662.62,159.49 L662.65,159.43 L662.67,159.38 L662.70,159.32 L662.72,159.27 L662.75,159.23 L662.78,159.18 L662.80,159.14 L662.83,159.10 L662.85,159.06 L662.88,159.03 L662.90,159.00 L662.93,158.98 L662.95,158.96 L662.98,158.94 L663.01,158.94 L663.03,158.93 L663.06,158.93 L663.08,158.94 L663.11,158.95 L663.13,158.96 L663.16,158.97 L663.19,158.99 L663.21,159.00 L663.24,159.02 L663.26,159.05 L663.29,159.07 L663.31,159.09 L663.34,159.11 L663.36,159.14 L663.39,159.16 L663.42,159.18 L663.44,159.20 L663.47,159.22 L663.49,159.24 L663.52,159.25 L663.54,159.27 L663.57,159.28 L663.59,159.28 L663.62,159.29 L663.65,159.28 L663.67,159.28 L663.70,159.27 L663.72,159.25 L663.75,159.23 L663.77,159.21 L663.80,159.17 L663.82,159.13 L663.85,159.09 L1061.93,159.09" stroke="#ff0000" stroke-width="1.9"/>
<path d="M657.14,495.15 L657.14,493.94 L657.15,492.74 L657.15,491.53 L657.15,490.32 L657.15,489.12 L657.15,487.91 L657.15,486.71 L657.15,485.50 L657.15,484.29 L657.15,483.09 L657.15,481.88 L657.15,480.67 L657.15,479.47 L657.15,478.26 L657.15,477.05 L657.15,475.85 L657.15,474.64 L657.15,473.43 L657.15,472.23 L657.16,471.02 L657.16,469.81 L657.16,468.61 L657.16,467.40 L657.16,466.20 L657.16,464.99 L657.16,463.78 L657.16,462.58 L657.16,461.37 L657.16,460.16 L657.16,458.96 L657.16,457.75 L657.16,456.54 L657.16,455.34 L657.16,454.13 L657.16,452.92 L657.16,451.72 L657.16,450.51 L657.16,449.30 L657.16,448.09 L657.16,446.86 L657.16,445.61 L657.16,444.33 L657.16,443.02 L657.17,441.70 L657.17,440.35 L657.17,438.98 L657.17,437.60 L657.17,436.19 L657.17,434.77 L657.17,433.33 L657.17,431.87 L657.17,430.40 L657.17,428.91 L657.17,427.41 L657.17,425.89 L657.17,424.37 L657.17,422.83 L657.17,421.28 L657.17,419.72 L657.17,418.15 L657.17,416.58 L657.17,415.00 L657.17,413.41 L657.17,411.81 L657.17,410.22 L657.17,408.61 L657.17,407.01 L657.17,405.40 L657.17,403.79 L657.17,402.18 L657.17,400.57 L657.17,398.97 L657.17,397.36 L657.17,395.76 L657.17,394.16 L657.17,392.57 L657.17,390.98 L657.17,389.40 L657.17,387.82 L657.17,386.25 L657.17,384.70 L657.17,383.15 L657.17,381.61 L657.17,380.08 L657.17,378.57 L657.17,377.07 L657.17,375.58 L657.17,374.11 L657.18,372.65 L657.18,371.21 L657.18,369.78 L657.18,368.38 L657.18,366.99 L657.18,365.62 L657.18,364.28 L657.18,362.95 L657.18,361.65 L657.18,360.37 L657.18,359.11 L657.18,357.88 L657.18,356.67 L657.18,355.50 L657.18,354.34 L657.18,353.22 L657.18,352.12 L657.18,351.06 L657.18,350.03 L657.18,349.02 L657.18,348.05 L657.18,347.11 L657.18,346.21 L657.18,345.34 L657.18,344.51 L657.18,343.71 L657.18,342.95 L657.18,342.23 L657.18,341.55 L657.18,340.91 L657.18,340.31 L657.18,339.75 L657.18,339.23 L657.18,338.76 L657.18,338.33 L657.18,337.94 L657.18,337.60 L657.18,337.31 L657.18,337.06 L657.18,336.87 L657.18,336.72 L657.18,336.62 L657.18,336.57 L657.19,336.58 L657.19,336.69 L657.19,336.89 L657.19,337.17 L657.19,337.55 L657.19,338.01 L657.19,338.56 L657.19,339.18 L657.19,339.88 L657.19,340.66 L657.19,341.51 L657.19,342.43 L657.19,343.41 L657.19,344.46 L657.19,345.58 L657.19,346.75 L657.19,347.98 L657.19,349.26 L657.19,350.59 L657.19,351.97 L657.19,353.40 L657.19,354.87 L657.19,356.39 L657.19,357.94 L657.19,359.52 L657.19,361.14 L657.19,362.79 L657.19,364.47 L657.19,366.17 L657.20,367.89 L657.20,369.64 L657.20,371.40 L657.20,373.18 L657.20,374.97 L657.20,376.76 L657.20,378.57 L657.20,380.37 L657.20,382.18 L657.20,383.99 L657.20,385.80 L657.20,387.60 L657.20,389.38 L657.20,391.16 L657.20,392.93 L657.20,394.67 L657.20,396.40 L657.20,398.10 L657.20,399.78 L657.20,401.43 L657.21,403.06 L657.21,404.65 L657.21,406.20 L657.21,407.72 L657.21,409.19 L657.21,410.62 L657.21,412.01 L657.21,413.35 L657.21,414.63 L657.21,415.87 L657.21,417.04 L657.21,418.16 L657.21,419.22 L657.21,420.21 L657.21,421.14 L657.22,421.99 L657.22,422.78 L657.22,423.48 L657.22,424.12 L657.22,424.67 L657.22,425.14 L657.22,425.52 L657.22,425.82 L657.22,426.02 L657.22,426.14 L657.22,426.14 L657.22,425.88 L657.23,425.33 L657.23,424.52 L657.23,423.48 L657.23,422.24 L657.23,420.83 L657.24,419.28 L657.24,417.63 L657.24,415.89 L657.24,414.11 L657.25,412.31 L657.25,410.53 L657.25,408.78 L657.25,407.11 L657.26,405.54 L657.26,404.11 L657.26,402.84 L657.26,401.76 L657.26,400.91 L657.27,400.31 L657.27,400.00 L657.27,399.99 L657.27,400.20 L657.27,400.60 L657.27,401.18 L657.27,401.93 L657.27,402.83 L657.28,403.86 L657.28,405.02 L657.28,406.29 L657.28,407.66 L657.28,409.11 L657.28,410.62 L657.28,412.19 L657.28,413.80 L657.28,415.43 L657.28,417.08 L657.28,418.72 L657.28,420.35 L657.28,421.95 L657.29,423.50 L657.29,425.00 L657.29,426.42 L657.29,427.75 L657.29,428.99 L657.29,430.11 L657.30,431.10 L657.30,431.95 L657.31,432.61 L657.33,433.18 L657.34,433.91 L657.35,434.82 L657.35,435.84 L657.36,436.97 L657.36,438.18 L657.36,439.46 L657.37,440.77 L657.37,442.10 L657.37,443.43 L657.37,444.73 L657.38,445.98 L657.38,447.17 L657.39,448.34 L657.39,449.51 L657.40,450.69 L657.40,451.85 L657.41,453.00 L657.42,454.12 L657.43,455.21 L657.44,456.25 L657.45,457.28 L657.46,458.46 L657.47,459.63 L657.49,460.58 L657.50,461.11 L657.52,461.04 L657.53,460.43 L657.53,460.28 L657.53,460.14 L657.54,460.00 L657.54,459.87 L657.54,459.73 L657.54,459.59 L657.54,459.44 L657.55,459.26 L657.55,459.08 L657.55,458.90 L657.55,458.71 L657.55,458.52 L657.56,458.33 L657.56,458.14 L657.56,457.91 L657.56,457.69 L657.56,457.47 L657.57,457.24 L657.57,457.01 L657.57,456.78 L657.57,456.53 L657.57,456.28 L657.58,456.02 L657.58,455.77 L657.58,455.51 L657.58,455.23 L657.58,454.94 L657.59,454.66 L657.59,454.37 L657.59,454.07 L657.59,453.76 L657.59,453.45 L657.59,453.13 L657.60,452.80 L657.60,452.48 L657.60,452.15 L657.60,451.81 L657.60,451.46 L657.61,451.12 L657.61,450.78 L657.61,450.43 L657.61,450.07 L657.61,449.71 L657.62,449.36 L657.62,449.00 L657.62,448.63 L657.62,448.26 L657.62,447.89 L657.63,447.52 L657.63,447.13 L657.63,446.74 L657.63,446.35 L657.63,445.95 L657.64,445.53 L657.64,445.11 L657.64,444.68 L657.64,444.23 L657.64,443.78 L657.65,443.32 L657.65,442.83 L657.65,441.70 L657.66,440.24 L657.66,438.77 L657.67,437.31 L657.67,435.83 L657.68,434.36 L657.68,432.88 L657.69,431.40 L657.69,429.91 L657.69,428.42 L657.70,426.93 L657.70,425.44 L657.71,423.94 L657.71,422.44 L657.72,420.93 L657.72,419.43 L657.72,417.92 L657.73,416.41 L657.73,414.90 L657.74,413.38 L657.74,411.87 L657.74,410.35 L657.75,408.83 L657.75,407.31 L657.75,405.78 L657.76,404.26 L657.76,402.73 L657.77,401.20 L657.77,399.68 L657.77,398.15 L657.78,396.62 L657.78,395.08 L657.78,393.55 L657.79,392.02 L657.79,390.49 L657.79,388.96 L657.80,387.42 L657.80,385.89 L657.80,384.36 L657.81,382.82 L657.81,381.29 L657.81,379.76 L657.82,378.23 L657.82,376.69 L657.82,375.16 L657.83,373.63 L657.83,372.10 L657.83,370.57 L657.84,369.04 L657.84,367.51 L657.84,365.98 L657.85,364.45 L657.85,362.92 L657.85,361.39 L657.86,359.86 L657.86,358.33 L657.86,356.81 L657.87,355.28 L657.87,353.75 L657.87,352.22 L657.88,350.70 L657.88,349.17 L657.88,347.64 L657.89,346.12 L657.89,344.59 L657.89,343.06 L657.89,341.54 L657.90,340.01 L657.90,338.49 L657.90,336.96 L657.91,335.44 L657.91,333.91 L657.91,332.39 L657.92,330.86 L657.92,329.34 L657.92,327.81 L657.93,326.29 L657.93,324.76 L657.93,323.24 L657.93,321.72 L657.94,320.19 L657.94,318.67 L657.94,317.15 L657.95,315.62 L657.95,314.10 L657.95,312.58 L657.96,311.06 L657.96,309.53 L657.96,308.01 L657.96,306.49 L657.97,304.97 L657.97,303.44 L657.97,301.92 L657.98,300.40 L657.98,298.88 L657.98,297.35 L657.99,295.83 L657.99,294.31 L657.99,292.79 L657.99,291.27 L658.00,289.75 L658.00,288.22 L658.00,286.70 L658.01,285.18 L658.01,283.66 L658.01,282.14 L658.01,280.61 L658.02,279.09 L658.02,277.57 L658.02,276.05 L658.03,274.53 L658.03,273.01 L658.03,271.49 L658.04,269.96 L658.04,268.44 L658.04,266.92 L658.04,265.40 L658.05,263.88 L658.05,262.35 L658.05,260.83 L658.06,259.31 L658.06,257.79 L658.06,256.27 L658.06,254.74 L658.07,253.22 L658.07,251.70 L658.07,250.18 L658.08,248.66 L658.08,247.13 L658.08,245.61 L658.09,244.09 L658.09,242.57 L658.09,241.04 L658.09,239.52 L658.10,238.00 L658.10,236.48 L658.10,234.95 L658.11,233.43 L658.11,231.91 L658.11,230.39 L658.12,228.86 L658.12,227.34 L658.12,225.82 L658.13,224.30 L658.13,222.77 L658.13,221.25 L658.14,219.73 L658.14,218.21 L658.14,216.68 L658.14,215.16 L658.15,213.64 L658.15,212.12 L658.15,210.60 L658.16,209.07 L658.16,207.55 L658.17,206.03 L658.17,204.51 L658.17,202.99 L658.18,201.47 L658.18,199.94 L658.18,198.42 L658.19,196.90 L658.19,195.38 L658.19,193.86 L658.20,192.34 L658.20,190.82 L658.21,189.30 L658.21,187.78 L658.21,186.25 L658.22,184.73 L658.22,183.21 L658.22,181.69 L658.23,180.17 L658.23,178.65 L658.24,177.13 L658.24,175.61 L658.24,174.09 L658.25,172.58 L658.25,171.06 L658.26,169.54 L658.26,168.02 L658.27,166.50 L658.27,164.98 L658.27,163.46 L658.28,161.94 L658.28,160.43 L658.29,158.91 L658.29,157.39 L658.30,155.87 L658.30,154.36 L658.31,152.84 L658.31,151.32 L658.31,149.81 L658.32,148.29 L658.32,146.77 L658.33,145.26 L658.33,143.74 L658.34,142.23 L658.34,140.71 L658.35,139.20 L658.35,137.68 L658.36,136.17 L658.36,134.65 L658.37,133.14 L658.37,131.63 L658.38,130.13 L658.38,128.62 L658.39,127.12 L658.40,125.62 L658.40,124.13 L658.41,122.65 L658.41,121.17 L658.42,119.69 L658.43,118.23 L658.44,116.77 L658.44,115.32 L658.45,113.88 L658.46,112.45 L658.47,111.02 L658.48,109.61 L658.49,108.21 L658.50,106.82 L658.51,105.45 L658.52,104.08 L658.53,102.73 L658.54,101.40 L658.56,100.07 L658.57,98.77 L658.59,97.48 L658.61,96.23 L658.63,95.10 L658.65,94.13 L658.67,93.39 L658.69,92.94 L658.71,92.85 L658.73,93.13 L658.75,93.73 L658.78,94.56 L658.80,95.57 L658.82,96.69 L658.84,97.85 L658.85,99.04 L658.87,100.26 L658.89,101.52 L658.90,102.79 L658.92,104.09 L658.93,105.41 L658.94,106.75 L658.96,108.11 L658.97,109.47 L658.98,110.85 L658.99,112.24 L659.01,113.62 L659.02,115.02 L659.03,116.41 L659.04,117.80 L659.05,119.18 L659.06,120.56 L659.07,121.92 L659.08,123.28 L659.10,124.63 L659.11,125.98 L659.12,127.32 L659.13,128.66 L659.14,130.00 L659.15,131.34 L659.17,132.68 L659.18,134.02 L659.19,135.37 L659.20,136.72 L659.21,138.07 L659.23,139.43 L659.24,140.79 L659.25,142.14 L659.26,143.50 L659.28,144.86 L659.29,146.21 L659.30,147.55 L659.31,148.88 L659.33,150.21 L659.34,151.53 L659.35,152.83 L659.37,154.12 L659.38,155.40 L659.40,156.66 L659.41,157.90 L659.43,159.12 L659.44,160.32 L659.46,161.50 L659.48,162.65 L659.49,163.78 L659.51,164.88 L659.53,165.95 L659.55,166.99 L659.57,168.00 L659.59,168.98 L659.61,169.92 L659.63,170.82 L659.65,171.68 L659.68,172.48 L659.70,173.20 L659.72,173.82 L659.75,174.35 L659.77,174.75 L659.79,175.01 L659.82,175.13 L659.84,175.11 L659.87,174.98 L659.89,174.73 L659.92,174.40 L659.95,174.00 L659.97,173.55 L660.00,173.06 L660.02,172.55 L660.04,172.02 L660.07,171.48 L660.09,170.92 L660.12,170.34 L660.14,169.74 L660.16,169.13 L660.19,168.49 L660.21,167.84 L660.23,167.18 L660.26,166.51 L660.28,165.83 L660.30,165.14 L660.32,164.46 L660.35,163.77 L660.37,163.09 L660.39,162.42 L660.41,161.76 L660.44,161.12 L660.46,160.49 L660.49,159.88 L660.51,159.30 L660.53,158.74 L660.56,158.21 L660.58,157.72 L660.61,157.25 L660.63,156.83 L660.66,156.45 L660.68,156.12 L660.71,155.82 L660.74,155.57 L660.76,155.36 L660.79,155.19 L660.81,155.06 L660.84,154.96 L660.86,154.89 L660.89,154.86 L660.91,154.85 L660.94,154.87 L660.96,154.91 L660.99,154.98 L661.01,155.07 L661.04,155.18 L661.06,155.31 L661.09,155.45 L661.12,155.61 L661.14,155.78 L661.17,155.96 L661.19,156.14 L661.22,156.34 L661.24,156.53 L661.27,156.73 L661.29,156.93 L661.32,157.13 L661.34,157.33 L661.37,157.52 L661.39,157.70 L661.42,157.88 L661.45,158.05 L661.47,158.22 L661.50,158.38 L661.52,158.53 L661.55,158.68 L661.57,158.82 L661.60,158.95 L661.62,159.08 L661.65,159.20 L661.68,159.31 L661.70,159.42 L661.73,159.52 L661.75,159.62 L661.78,159.71 L661.80,159.79 L661.83,159.87 L661.85,159.94 L661.88,160.00 L661.91,160.05 L661.93,160.10 L661.96,160.15 L661.98,160.19 L662.01,160.22 L662.03,160.24 L662.06,160.26 L662.08,160.27 L662.11,160.27 L662.14,160.27 L662.16,160.26 L662.19,160.25 L662.21,160.23 L662.24,160.20 L662.26,160.17 L662.29,160.14 L662.31,160.10 L662.34,160.06 L662.37,160.02 L662.39,159.97 L662.42,159.92 L662.44,159.87 L662.47,159.82 L662.49,159.77 L662.52,159.71 L662.54,159.65 L662.57,159.60 L662.60,159.54 L662.62,159.49 L662.65,159.43 L662.67,159.38 L662.70,159.32 L662.72,159.27 L662.75,159.23 L662.78,159.18 L662.80,159.14 L662.83,159.10 L662.85,159.06 L662.88,159.03 L662.90,159.00 L662.93,158.98 L662.95,158.96 L662.98,158.94 L663.01,158.94 L663.03,158.93 L663.06,158.93 L663.08,158.94 L663.11,158.95 L663.13,158.96 L663.16,158.97 L663.19,158.99 L663.21,159.00 L663.24,159.02 L663.26,159.05 L663.29,159.07 L663.31,159.09 L663.34,159.11 L663.36,159.14 L663.39,159.16 L663.42,159.18 L663.44,159.20 L663.47,159.22 L663.49,159.24 L663.52,159.25 L663.54,159.27 L663.57,159.28 L663.59,159.28 L663.62,159.29 L663.65,159.28 L663.67,159.28 L663.70,159.27 L663.72,159.25 L663.75,159.23 L663.77,159.21 L663.80,159.17 L663.82,159.13 L663.85,159.09 L1061.93,159.09" stroke="#edb120" stroke-width="3.1" stroke-dasharray="13.3 13.56"/>
</g>
<text x="657.10" y="524.70" font-size="22.2" text-anchor="middle">0</text>
<text x="792.04" y="524.70" font-size="22.2" text-anchor="middle">100</text>
<text x="926.99" y="524.70" font-size="22.2" text-anchor="middle">200</text>
<text x="1061.93" y="524.70" font-size="22.2" text-anchor="middle">300</text>
<text x="649.95" y="54.30" font-size="22.2" text-anchor="end">4</text>
<text x="649.95" y="110.67" font-size="22.2" text-anchor="end">2</text>
<text x="649.95" y="167.05" font-size="22.2" text-anchor="end">0</text>
<text x="649.95" y="223.43" font-size="22.2" text-anchor="end">-2</text>
<text x="649.95" y="279.80" font-size="22.2" text-anchor="end">-4</text>
<text x="649.95" y="336.18" font-size="22.2" text-anchor="end">-6</text>
<text x="649.95" y="392.55" font-size="22.2" text-anchor="end">-8</text>
<text x="649.95" y="448.93" font-size="22.2" text-anchor="end">-10</text>
<text x="649.95" y="505.30" font-size="22.2" text-anchor="end">-12</text>
<path d="M660.85,30.80L671.25,41.20M660.85,41.20L671.25,30.80" stroke="#262626" stroke-width="0.95" fill="none"/>
<text x="675.15" y="40.90" font-size="22.2">10</text>
<text x="697.95" y="30.30" font-size="17.4">5</text>
<text x="859.02" y="552.90" font-size="24.0" letter-spacing="0.17" text-anchor="middle">Time (s)</text>
<text transform="translate(611.4,274.10) rotate(-90)" font-size="24.0" letter-spacing="0.27" text-anchor="middle">Velocity of Seat System (m/s)</text>
<path d="M847.78,68.25H881.33" stroke="#ff0000" stroke-width="1.9"/>
<path d="M847.78,91.60H881.33" stroke="#edb120" stroke-width="2.9" stroke-dasharray="13.2 13.8"/>
<text x="883.78" y="75.70" font-size="20.0" fill="#0c0c0c">Compared Control 2</text>
<text x="883.78" y="98.90" font-size="20.0" fill="#0c0c0c">Observer</text>
<clipPath id="cpc"><rect x="87.74" y="655.85" width="407.51" height="455.05000000000007"/></clipPath>
<path d="M170.44,1108.9v-5.3M170.44,657.85v5.3M251.14,1108.9v-5.3M251.14,657.85v5.3M331.85,1108.9v-5.3M331.85,657.85v5.3M412.55,1108.9v-5.3M412.55,657.85v5.3M89.74,733.03h5.3M493.25,733.03h-5.3M89.74,808.20h5.3M493.25,808.20h-5.3M89.74,883.38h5.3M493.25,883.38h-5.3M89.74,958.55h5.3M493.25,958.55h-5.3M89.74,1033.73h5.3M493.25,1033.73h-5.3" stroke="#262626" stroke-width="1.7" fill="none"/>
<rect x="89.74" y="657.85" width="403.51" height="451.05" fill="none" stroke="#262626" stroke-width="1.9" stroke-linejoin="round"/>
<g clip-path="url(#cpc)" fill="none" stroke-linejoin="round">
<path d="M91.90,733.00 L91.97,733.76 L92.05,734.51 L92.13,735.26 L92.21,736.02 L92.30,736.77 L92.38,737.52 L92.47,738.28 L92.57,739.03 L92.66,739.78 L92.76,740.53 L92.86,741.28 L92.96,742.03 L93.07,742.78 L93.17,743.53 L93.28,744.28 L93.39,745.03 L93.51,745.78 L93.63,746.53 L93.75,747.28 L93.87,748.03 L94.00,748.77 L94.13,749.52 L94.26,750.27 L94.40,751.01 L94.54,751.76 L94.69,752.50 L94.83,753.25 L94.98,753.99 L95.13,754.73 L95.29,755.47 L95.45,756.21 L95.62,756.95 L95.80,757.69 L95.99,758.42 L96.19,759.15 L96.40,759.88 L96.61,760.61 L96.82,761.34 L97.02,762.07 L97.22,762.81 L97.41,763.54 L97.59,764.27 L97.76,765.01 L97.91,765.75 L98.05,766.49 L98.17,767.24 L98.30,767.99 L98.41,768.73 L98.52,769.48 L98.63,770.24 L98.73,770.99 L98.83,771.74 L98.94,772.49 L99.00,772.96 L99.07,773.45 L99.14,773.93 L99.20,774.39 L99.27,774.84 L99.34,775.28 L99.41,775.70 L99.47,776.11 L99.54,776.50 L99.61,776.89 L99.68,777.27 L99.75,777.64 L99.81,778.00 L99.88,778.36 L99.95,778.72 L100.02,779.07 L100.08,779.42 L100.15,779.77 L100.22,780.11 L100.29,780.45 L100.36,780.80 L100.42,781.14 L100.49,781.48 L100.56,781.83 L100.63,782.17 L100.69,782.52 L100.76,782.87 L100.83,783.21 L100.90,783.57 L100.97,783.92 L101.03,784.28 L101.10,784.64 L101.17,785.00 L101.24,785.37 L101.31,785.73 L101.37,786.10 L101.44,786.48 L101.51,786.85 L101.58,787.23 L101.64,787.61 L101.71,787.99 L101.78,788.37 L101.85,788.76 L101.92,789.14 L101.98,789.53 L102.05,789.92 L102.12,790.31 L102.19,790.70 L102.25,791.09 L102.32,791.49 L102.39,791.88 L102.46,792.28 L102.53,792.68 L102.59,793.07 L102.66,793.47 L102.73,793.87 L102.80,794.27 L102.86,794.67 L102.93,795.07 L103.00,795.48 L103.18,796.56 L103.44,798.10 L103.70,799.64 L103.96,801.19 L104.21,802.73 L104.47,804.28 L104.72,805.82 L104.97,807.37 L105.22,808.91 L105.48,810.46 L105.73,812.00 L105.97,813.55 L106.22,815.10 L106.47,816.65 L106.71,818.19 L106.96,819.74 L107.20,821.29 L107.45,822.84 L107.69,824.38 L107.93,825.93 L108.17,827.48 L108.41,829.03 L108.65,830.58 L108.89,832.13 L109.13,833.68 L109.37,835.23 L109.61,836.78 L109.84,838.32 L110.08,839.87 L110.32,841.42 L110.55,842.97 L110.79,844.53 L111.02,846.08 L111.25,847.63 L111.49,849.18 L111.72,850.73 L111.95,852.28 L112.19,853.83 L112.42,855.38 L112.65,856.93 L112.88,858.48 L113.11,860.03 L113.34,861.58 L113.57,863.14 L113.80,864.69 L114.04,866.24 L114.27,867.79 L114.50,869.34 L114.73,870.89 L114.96,872.44 L115.19,873.99 L115.42,875.55 L115.65,877.10 L115.88,878.65 L116.11,880.20 L116.34,881.75 L116.57,883.30 L116.80,884.85 L117.03,886.40 L117.26,887.95 L117.49,889.51 L117.72,891.06 L117.95,892.61 L118.18,894.16 L118.41,895.71 L118.64,897.26 L118.88,898.81 L119.11,900.36 L119.34,901.91 L119.57,903.46 L119.81,905.01 L120.04,906.56 L120.28,908.11 L120.51,909.66 L120.75,911.21 L120.98,912.75 L121.22,914.30 L121.46,915.85 L121.70,917.40 L121.93,918.95 L122.17,920.50 L122.41,922.04 L122.65,923.59 L122.89,925.14 L123.14,926.68 L123.38,928.23 L123.62,929.78 L123.87,931.32 L124.11,932.87 L124.36,934.41 L124.60,935.96 L124.85,937.51 L125.10,939.05 L125.35,940.59 L125.60,942.14 L125.85,943.68 L126.10,945.23 L126.36,946.77 L126.61,948.31 L126.86,949.85 L127.12,951.40 L127.38,952.94 L127.64,954.48 L127.90,956.02 L128.16,957.56 L128.42,959.10 L128.68,960.64 L128.95,962.18 L129.22,963.72 L129.48,965.26 L129.75,966.80 L130.02,968.33 L130.29,969.87 L130.57,971.41 L130.84,972.94 L131.12,974.48 L131.39,976.02 L131.67,977.55 L131.95,979.08 L132.23,980.62 L132.52,982.15 L132.80,983.69 L133.09,985.22 L133.39,986.75 L133.68,988.28 L133.98,989.81 L134.29,991.34 L134.60,992.87 L134.92,994.40 L135.24,995.93 L135.56,997.45 L135.90,998.98 L136.24,1000.50 L136.59,1002.03 L136.94,1003.55 L137.31,1005.07 L137.68,1006.60 L138.06,1008.12 L138.45,1009.64 L138.86,1011.16 L139.27,1012.67 L139.69,1014.19 L140.12,1015.71 L140.56,1017.22 L141.02,1018.73 L141.48,1020.25 L141.96,1021.76 L142.46,1023.27 L142.96,1024.78 L143.48,1026.28 L144.02,1027.79 L144.56,1029.29 L145.13,1030.80 L145.70,1032.30 L146.30,1033.80 L146.91,1035.30 L147.53,1036.80 L148.18,1038.29 L148.86,1039.76 L149.57,1041.20 L150.34,1042.59 L151.18,1043.92 L152.09,1045.17 L153.08,1046.34 L154.17,1047.40 L155.37,1048.34 L156.66,1049.14 L158.04,1049.80 L159.47,1050.30 L160.94,1050.62 L162.43,1050.75 L163.92,1050.69 L165.39,1050.43 L166.82,1049.97 L168.19,1049.31 L169.49,1048.49 L170.74,1047.52 L171.94,1046.43 L173.08,1045.25 L174.18,1044.01 L175.24,1042.74 L176.27,1041.45 L177.26,1040.19 L178.22,1038.96 L179.16,1037.75 L180.08,1036.54 L180.98,1035.32 L181.87,1034.07 L182.75,1032.80 L183.63,1031.50 L184.50,1030.19 L185.36,1028.86 L186.22,1027.53 L187.08,1026.19 L187.94,1024.85 L188.80,1023.52 L189.67,1022.19 L190.55,1020.88 L191.43,1019.58 L192.33,1018.31 L193.23,1017.06 L194.15,1015.83 L195.09,1014.62 L196.04,1013.43 L197.01,1012.25 L198.00,1011.10 L199.01,1009.95 L200.04,1008.81 L201.10,1007.69 L202.19,1006.57 L203.30,1005.46 L204.45,1004.36 L205.63,1003.26 L206.83,1002.16 L208.07,1001.08 L209.34,1000.03 L210.63,999.00 L211.95,998.02 L213.29,997.08 L214.65,996.21 L216.03,995.40 L217.43,994.66 L218.85,994.02 L220.28,993.46 L221.72,993.01 L223.17,992.66 L224.64,992.42 L226.11,992.27 L227.59,992.22 L229.07,992.25 L230.57,992.35 L232.07,992.52 L233.57,992.75 L235.08,993.03 L236.60,993.36 L238.11,993.73 L239.63,994.13 L241.15,994.55 L242.67,994.98 L244.19,995.43 L245.72,995.90 L247.24,996.37 L248.76,996.85 L250.28,997.34 L251.81,997.83 L253.33,998.32 L254.86,998.82 L256.39,999.31 L257.91,999.80 L259.44,1000.29 L260.97,1000.78 L262.50,1001.25 L264.03,1001.71 L265.56,1002.17 L267.09,1002.61 L268.62,1003.04 L270.15,1003.44 L271.69,1003.84 L273.22,1004.21 L274.75,1004.56 L276.29,1004.88 L277.83,1005.18 L279.36,1005.45 L280.90,1005.70 L282.44,1005.91 L283.98,1006.09 L285.52,1006.24 L287.06,1006.37 L288.61,1006.46 L290.15,1006.53 L291.69,1006.58 L293.24,1006.60 L294.78,1006.60 L296.33,1006.59 L297.88,1006.55 L299.42,1006.50 L300.97,1006.43 L302.52,1006.35 L304.07,1006.25 L305.62,1006.14 L307.17,1006.03 L308.73,1005.90 L310.28,1005.77 L311.83,1005.63 L313.39,1005.49 L314.94,1005.35 L316.50,1005.20 L318.05,1005.06 L319.61,1004.92 L321.16,1004.78 L322.72,1004.64 L324.28,1004.51 L325.84,1004.39 L327.40,1004.28 L328.96,1004.17 L330.52,1004.07 L332.08,1003.98 L333.64,1003.90 L335.20,1003.82 L336.76,1003.75 L338.33,1003.69 L339.89,1003.63 L341.45,1003.58 L343.02,1003.53 L344.58,1003.49 L346.15,1003.45 L347.71,1003.42 L349.28,1003.40 L350.84,1003.38 L352.41,1003.36 L353.98,1003.35 L355.54,1003.34 L357.11,1003.33 L358.68,1003.33 L360.25,1003.33 L361.82,1003.33 L363.38,1003.34 L364.95,1003.34 L366.52,1003.36 L368.09,1003.37 L369.66,1003.38 L371.23,1003.40 L372.80,1003.41 L374.37,1003.43 L375.94,1003.45 L377.51,1003.47 L379.08,1003.49 L380.66,1003.50 L382.23,1003.52 L383.80,1003.54 L385.37,1003.56 L386.94,1003.58 L388.51,1003.60 L390.09,1003.63 L391.66,1003.65 L393.23,1003.67 L394.80,1003.69 L396.37,1003.71 L397.95,1003.73 L399.52,1003.75 L401.09,1003.77 L402.66,1003.79 L404.23,1003.81 L405.81,1003.83 L407.38,1003.85 L408.95,1003.88 L410.52,1003.90 L412.10,1003.92 L413.67,1003.94 L415.24,1003.96 L416.81,1003.98 L418.38,1004.00 L419.96,1004.01 L421.53,1004.03 L423.10,1004.05 L424.67,1004.07 L426.24,1004.09 L427.81,1004.10 L429.38,1004.12 L430.95,1004.14 L432.52,1004.15 L434.09,1004.17 L435.66,1004.18 L437.23,1004.20 L438.80,1004.21 L440.37,1004.23 L441.94,1004.24 L443.51,1004.25 L445.08,1004.26 L446.65,1004.27 L448.21,1004.28 L449.78,1004.29 L451.35,1004.30 L452.92,1004.31 L454.48,1004.31 L456.05,1004.32 L457.61,1004.32 L459.18,1004.33 L460.75,1004.33 L462.31,1004.33 L463.87,1004.34 L465.44,1004.34 L467.00,1004.34 L468.56,1004.33 L470.13,1004.33 L471.69,1004.33 L473.25,1004.32 L474.81,1004.32 L476.37,1004.31 L477.93,1004.30 L479.49,1004.29 L481.05,1004.28 L482.61,1004.27 L484.17,1004.26 L485.72,1004.24 L487.28,1004.23 L488.84,1004.21 L490.39,1004.19 L491.95,1004.17 L493.50,1004.15" stroke="#ff0000" stroke-width="1.9"/>
<path d="M91.90,733.00 L91.97,733.76 L92.05,734.51 L92.13,735.26 L92.21,736.02 L92.30,736.77 L92.38,737.52 L92.47,738.28 L92.57,739.03 L92.66,739.78 L92.76,740.53 L92.86,741.28 L92.96,742.03 L93.07,742.78 L93.17,743.53 L93.28,744.28 L93.39,745.03 L93.51,745.78 L93.63,746.53 L93.75,747.28 L93.87,748.03 L94.00,748.77 L94.13,749.52 L94.26,750.27 L94.40,751.01 L94.54,751.76 L94.69,752.50 L94.83,753.25 L94.98,753.99 L95.13,754.73 L95.29,755.47 L95.45,756.21 L95.62,756.95 L95.80,757.69 L95.99,758.42 L96.19,759.15 L96.40,759.88 L96.61,760.61 L96.82,761.34 L97.02,762.07 L97.22,762.81 L97.41,763.54 L97.59,764.27 L97.76,765.01 L97.91,765.75 L98.05,766.49 L98.17,767.24 L98.30,767.99 L98.41,768.73 L98.52,769.48 L98.63,770.24 L98.73,770.99 L98.83,771.74 L98.94,772.49 L99.00,772.96 L99.07,773.45 L99.14,773.93 L99.20,774.39 L99.27,774.84 L99.34,775.28 L99.41,775.70 L99.47,776.11 L99.54,776.50 L99.61,776.89 L99.68,777.27 L99.75,777.64 L99.81,778.00 L99.88,778.36 L99.95,778.72 L100.02,779.07 L100.08,779.42 L100.15,779.77 L100.22,780.11 L100.29,780.45 L100.36,780.80 L100.42,781.14 L100.49,781.48 L100.56,781.83 L100.63,782.17 L100.69,782.52 L100.76,782.87 L100.83,783.21 L100.90,783.57 L100.97,783.92 L101.03,784.28 L101.10,784.64 L101.17,785.00 L101.24,785.37 L101.31,785.73 L101.37,786.10 L101.44,786.48 L101.51,786.85 L101.58,787.23 L101.64,787.61 L101.71,787.99 L101.78,788.37 L101.85,788.76 L101.92,789.14 L101.98,789.53 L102.05,789.92 L102.12,790.31 L102.19,790.70 L102.25,791.09 L102.32,791.49 L102.39,791.88 L102.46,792.28 L102.53,792.68 L102.59,793.07 L102.66,793.47 L102.73,793.87 L102.80,794.27 L102.86,794.67 L102.93,795.07 L103.00,795.48 L103.18,796.56 L103.44,798.10 L103.70,799.64 L103.96,801.19 L104.21,802.73 L104.47,804.28 L104.72,805.82 L104.97,807.37 L105.22,808.91 L105.48,810.46 L105.73,812.00 L105.97,813.55 L106.22,815.10 L106.47,816.65 L106.71,818.19 L106.96,819.74 L107.20,821.29 L107.45,822.84 L107.69,824.38 L107.93,825.93 L108.17,827.48 L108.41,829.03 L108.65,830.58 L108.89,832.13 L109.13,833.68 L109.37,835.23 L109.61,836.78 L109.84,838.32 L110.08,839.87 L110.32,841.42 L110.55,842.97 L110.79,844.53 L111.02,846.08 L111.25,847.63 L111.49,849.18 L111.72,850.73 L111.95,852.28 L112.19,853.83 L112.42,855.38 L112.65,856.93 L112.88,858.48 L113.11,860.03 L113.34,861.58 L113.57,863.14 L113.80,864.69 L114.04,866.24 L114.27,867.79 L114.50,869.34 L114.73,870.89 L114.96,872.44 L115.19,873.99 L115.42,875.55 L115.65,877.10 L115.88,878.65 L116.11,880.20 L116.34,881.75 L116.57,883.30 L116.80,884.85 L117.03,886.40 L117.26,887.95 L117.49,889.51 L117.72,891.06 L117.95,892.61 L118.18,894.16 L118.41,895.71 L118.64,897.26 L118.88,898.81 L119.11,900.36 L119.34,901.91 L119.57,903.46 L119.81,905.01 L120.04,906.56 L120.28,908.11 L120.51,909.66 L120.75,911.21 L120.98,912.75 L121.22,914.30 L121.46,915.85 L121.70,917.40 L121.93,918.95 L122.17,920.50 L122.41,922.04 L122.65,923.59 L122.89,925.14 L123.14,926.68 L123.38,928.23 L123.62,929.78 L123.87,931.32 L124.11,932.87 L124.36,934.41 L124.60,935.96 L124.85,937.51 L125.10,939.05 L125.35,940.59 L125.60,942.14 L125.85,943.68 L126.10,945.23 L126.36,946.77 L126.61,948.31 L126.86,949.85 L127.12,951.40 L127.38,952.94 L127.64,954.48 L127.90,956.02 L128.16,957.56 L128.42,959.10 L128.68,960.64 L128.95,962.18 L129.22,963.72 L129.48,965.26 L129.75,966.80 L130.02,968.33 L130.29,969.87 L130.57,971.41 L130.84,972.94 L131.12,974.48 L131.39,976.02 L131.67,977.55 L131.95,979.08 L132.23,980.62 L132.52,982.15 L132.80,983.69 L133.09,985.22 L133.39,986.75 L133.68,988.28 L133.98,989.81 L134.29,991.34 L134.60,992.87 L134.92,994.40 L135.24,995.93 L135.56,997.45 L135.90,998.98 L136.24,1000.50 L136.59,1002.03 L136.94,1003.55 L137.31,1005.07 L137.68,1006.60 L138.06,1008.12 L138.45,1009.64 L138.86,1011.16 L139.27,1012.67 L139.69,1014.19 L140.12,1015.71 L140.56,1017.22 L141.02,1018.73 L141.48,1020.25 L141.96,1021.76 L142.46,1023.27 L142.96,1024.78 L143.48,1026.28 L144.02,1027.79 L144.56,1029.29 L145.13,1030.80 L145.70,1032.30 L146.30,1033.80 L146.91,1035.30 L147.53,1036.80 L148.18,1038.29 L148.86,1039.76 L149.57,1041.20 L150.34,1042.59 L151.18,1043.92 L152.09,1045.17 L153.08,1046.34 L154.17,1047.40 L155.37,1048.34 L156.66,1049.14 L158.04,1049.80 L159.47,1050.30 L160.94,1050.62 L162.43,1050.75 L163.92,1050.69 L165.39,1050.43 L166.82,1049.97 L168.19,1049.31 L169.49,1048.49 L170.74,1047.52 L171.94,1046.43 L173.08,1045.25 L174.18,1044.01 L175.24,1042.74 L176.27,1041.45 L177.26,1040.19 L178.22,1038.96 L179.16,1037.75 L180.08,1036.54 L180.98,1035.32 L181.87,1034.07 L182.75,1032.80 L183.63,1031.50 L184.50,1030.19 L185.36,1028.86 L186.22,1027.53 L187.08,1026.19 L187.94,1024.85 L188.80,1023.52 L189.67,1022.19 L190.55,1020.88 L191.43,1019.58 L192.33,1018.31 L193.23,1017.06 L194.15,1015.83 L195.09,1014.62 L196.04,1013.43 L197.01,1012.25 L198.00,1011.10 L199.01,1009.95 L200.04,1008.81 L201.10,1007.69 L202.19,1006.57 L203.30,1005.46 L204.45,1004.36 L205.63,1003.26 L206.83,1002.16 L208.07,1001.08 L209.34,1000.03 L210.63,999.00 L211.95,998.02 L213.29,997.08 L214.65,996.21 L216.03,995.40 L217.43,994.66 L218.85,994.02 L220.28,993.46 L221.72,993.01 L223.17,992.66 L224.64,992.42 L226.11,992.27 L227.59,992.22 L229.07,992.25 L230.57,992.35 L232.07,992.52 L233.57,992.75 L235.08,993.03 L236.60,993.36 L238.11,993.73 L239.63,994.13 L241.15,994.55 L242.67,994.98 L244.19,995.43 L245.72,995.90 L247.24,996.37 L248.76,996.85 L250.28,997.34 L251.81,997.83 L253.33,998.32 L254.86,998.82 L256.39,999.31 L257.91,999.80 L259.44,1000.29 L260.97,1000.78 L262.50,1001.25 L264.03,1001.71 L265.56,1002.17 L267.09,1002.61 L268.62,1003.04 L270.15,1003.44 L271.69,1003.84 L273.22,1004.21 L274.75,1004.56 L276.29,1004.88 L277.83,1005.18 L279.36,1005.45 L280.90,1005.70 L282.44,1005.91 L283.98,1006.09 L285.52,1006.24 L287.06,1006.37 L288.61,1006.46 L290.15,1006.53 L291.69,1006.58 L293.24,1006.60 L294.78,1006.60 L296.33,1006.59 L297.88,1006.55 L299.42,1006.50 L300.97,1006.43 L302.52,1006.35 L304.07,1006.25 L305.62,1006.14 L307.17,1006.03 L308.73,1005.90 L310.28,1005.77 L311.83,1005.63 L313.39,1005.49 L314.94,1005.35 L316.50,1005.20 L318.05,1005.06 L319.61,1004.92 L321.16,1004.78 L322.72,1004.64 L324.28,1004.51 L325.84,1004.39 L327.40,1004.28 L328.96,1004.17 L330.52,1004.07 L332.08,1003.98 L333.64,1003.90 L335.20,1003.82 L336.76,1003.75 L338.33,1003.69 L339.89,1003.63 L341.45,1003.58 L343.02,1003.53 L344.58,1003.49 L346.15,1003.45 L347.71,1003.42 L349.28,1003.40 L350.84,1003.38 L352.41,1003.36 L353.98,1003.35 L355.54,1003.34 L357.11,1003.33 L358.68,1003.33 L360.25,1003.33 L361.82,1003.33 L363.38,1003.34 L364.95,1003.34 L366.52,1003.36 L368.09,1003.37 L369.66,1003.38 L371.23,1003.40 L372.80,1003.41 L374.37,1003.43 L375.94,1003.45 L377.51,1003.47 L379.08,1003.49 L380.66,1003.50 L382.23,1003.52 L383.80,1003.54 L385.37,1003.56 L386.94,1003.58 L388.51,1003.60 L390.09,1003.63 L391.66,1003.65 L393.23,1003.67 L394.80,1003.69 L396.37,1003.71 L397.95,1003.73 L399.52,1003.75 L401.09,1003.77 L402.66,1003.79 L404.23,1003.81 L405.81,1003.83 L407.38,1003.85 L408.95,1003.88 L410.52,1003.90 L412.10,1003.92 L413.67,1003.94 L415.24,1003.96 L416.81,1003.98 L418.38,1004.00 L419.96,1004.01 L421.53,1004.03 L423.10,1004.05 L424.67,1004.07 L426.24,1004.09 L427.81,1004.10 L429.38,1004.12 L430.95,1004.14 L432.52,1004.15 L434.09,1004.17 L435.66,1004.18 L437.23,1004.20 L438.80,1004.21 L440.37,1004.23 L441.94,1004.24 L443.51,1004.25 L445.08,1004.26 L446.65,1004.27 L448.21,1004.28 L449.78,1004.29 L451.35,1004.30 L452.92,1004.31 L454.48,1004.31 L456.05,1004.32 L457.61,1004.32 L459.18,1004.33 L460.75,1004.33 L462.31,1004.33 L463.87,1004.34 L465.44,1004.34 L467.00,1004.34 L468.56,1004.33 L470.13,1004.33 L471.69,1004.33 L473.25,1004.32 L474.81,1004.32 L476.37,1004.31 L477.93,1004.30 L479.49,1004.29 L481.05,1004.28 L482.61,1004.27 L484.17,1004.26 L485.72,1004.24 L487.28,1004.23 L488.84,1004.21 L490.39,1004.19 L491.95,1004.17 L493.50,1004.15" stroke="#edb120" stroke-width="3.1" stroke-dasharray="13.3 13.56"/>
</g>
<text x="89.74" y="1136.30" font-size="22.2" text-anchor="middle">0</text>
<text x="170.44" y="1136.30" font-size="22.2" text-anchor="middle">1</text>
<text x="251.14" y="1136.30" font-size="22.2" text-anchor="middle">2</text>
<text x="331.85" y="1136.30" font-size="22.2" text-anchor="middle">3</text>
<text x="412.55" y="1136.30" font-size="22.2" text-anchor="middle">4</text>
<text x="493.25" y="1136.30" font-size="22.2" text-anchor="middle">5</text>
<text x="81.89" y="665.85" font-size="22.2" text-anchor="end">0.5</text>
<text x="82.39" y="741.03" font-size="22.2" text-anchor="end">0</text>
<text x="81.89" y="816.20" font-size="22.2" text-anchor="end">-0.5</text>
<text x="81.89" y="891.38" font-size="22.2" text-anchor="end">-1</text>
<text x="81.89" y="966.55" font-size="22.2" text-anchor="end">-1.5</text>
<text x="82.39" y="1041.73" font-size="22.2" text-anchor="end">-2</text>
<text x="81.89" y="1116.90" font-size="22.2" text-anchor="end">-2.5</text>
<path d="M93.24,642.35L103.64,652.75M93.24,652.75L103.64,642.35" stroke="#262626" stroke-width="0.95" fill="none"/>
<text x="107.54" y="652.45" font-size="22.2">10</text>
<text x="130.34" y="641.85" font-size="17.4">5</text>
<text x="291.00" y="1164.50" font-size="24.0" letter-spacing="0.17" text-anchor="middle">Time (s)</text>
<text transform="translate(38.0,883.88) rotate(-90)" font-size="24.0" letter-spacing="0.27" text-anchor="middle">Displacement of Seat System (m)</text>
<path d="M279.10,679.80H312.65" stroke="#ff0000" stroke-width="1.9"/>
<path d="M279.10,703.15H312.65" stroke="#edb120" stroke-width="2.9" stroke-dasharray="13.2 13.8"/>
<text x="315.10" y="687.25" font-size="20.0" fill="#0c0c0c">Compared Control 3</text>
<text x="315.10" y="710.45" font-size="20.0" fill="#0c0c0c">Observer</text>
<clipPath id="cpd"><rect x="655.1" y="655.85" width="408.83000000000004" height="455.05000000000007"/></clipPath>
<path d="M738.07,1108.9v-5.3M738.07,657.85v5.3M819.03,1108.9v-5.3M819.03,657.85v5.3M900.00,1108.9v-5.3M900.00,657.85v5.3M980.96,1108.9v-5.3M980.96,657.85v5.3M657.1,714.23h5.3M1061.93,714.23h-5.3M657.1,770.61h5.3M1061.93,770.61h-5.3M657.1,826.99h5.3M1061.93,826.99h-5.3M657.1,883.38h5.3M1061.93,883.38h-5.3M657.1,939.76h5.3M1061.93,939.76h-5.3M657.1,996.14h5.3M1061.93,996.14h-5.3M657.1,1052.52h5.3M1061.93,1052.52h-5.3" stroke="#262626" stroke-width="1.7" fill="none"/>
<rect x="657.1" y="657.85" width="404.83" height="451.05" fill="none" stroke="#262626" stroke-width="1.9" stroke-linejoin="round"/>
<g clip-path="url(#cpd)" fill="none" stroke-linejoin="round">
<path d="M659.75,1106.50 L659.78,1105.29 L659.82,1104.09 L659.85,1102.88 L659.89,1101.67 L659.92,1100.47 L659.96,1099.26 L659.99,1098.05 L660.02,1096.85 L660.06,1095.64 L660.09,1094.43 L660.13,1093.23 L660.16,1092.02 L660.19,1090.81 L660.23,1089.61 L660.26,1088.40 L660.29,1087.19 L660.32,1085.99 L660.35,1084.78 L660.39,1083.57 L660.42,1082.37 L660.45,1081.16 L660.48,1079.95 L660.51,1078.75 L660.54,1077.54 L660.57,1076.33 L660.59,1075.13 L660.62,1073.92 L660.65,1072.71 L660.68,1071.51 L660.70,1070.30 L660.73,1069.09 L660.75,1067.89 L660.78,1066.68 L660.80,1065.47 L660.82,1064.27 L660.85,1063.06 L660.87,1061.85 L660.89,1060.65 L660.91,1059.44 L660.93,1058.21 L660.95,1056.95 L660.97,1055.67 L660.99,1054.37 L661.00,1053.04 L661.02,1051.70 L661.04,1050.33 L661.06,1048.94 L661.07,1047.53 L661.09,1046.11 L661.11,1044.67 L661.12,1043.21 L661.14,1041.74 L661.15,1040.25 L661.17,1038.75 L661.18,1037.23 L661.20,1035.71 L661.21,1034.17 L661.23,1032.62 L661.24,1031.06 L661.26,1029.49 L661.27,1027.92 L661.28,1026.34 L661.30,1024.75 L661.31,1023.15 L661.32,1021.56 L661.34,1019.95 L661.35,1018.35 L661.36,1016.74 L661.37,1015.13 L661.38,1013.52 L661.40,1011.91 L661.41,1010.31 L661.42,1008.70 L661.43,1007.10 L661.44,1005.50 L661.46,1003.91 L661.47,1002.32 L661.48,1000.73 L661.49,999.16 L661.50,997.59 L661.51,996.03 L661.52,994.48 L661.53,992.95 L661.54,991.42 L661.56,989.90 L661.57,988.40 L661.58,986.92 L661.59,985.44 L661.60,983.98 L661.61,982.54 L661.62,981.12 L661.63,979.71 L661.65,978.33 L661.66,976.96 L661.67,975.61 L661.68,974.29 L661.69,972.98 L661.70,971.70 L661.71,970.45 L661.73,969.21 L661.74,968.01 L661.75,966.83 L661.76,965.68 L661.78,964.55 L661.79,963.46 L661.80,962.39 L661.81,961.36 L661.83,960.36 L661.84,959.38 L661.85,958.45 L661.87,957.54 L661.88,956.67 L661.89,955.84 L661.91,955.05 L661.92,954.29 L661.94,953.56 L661.95,952.88 L661.97,952.24 L661.98,951.64 L662.00,951.08 L662.01,950.56 L662.03,950.09 L662.05,949.66 L662.06,949.27 L662.08,948.93 L662.10,948.64 L662.12,948.40 L662.14,948.20 L662.15,948.05 L662.17,947.95 L662.19,947.90 L662.21,947.92 L662.23,948.02 L662.25,948.22 L662.27,948.51 L662.29,948.88 L662.31,949.34 L662.33,949.89 L662.35,950.51 L662.37,951.21 L662.39,951.99 L662.41,952.84 L662.43,953.76 L662.45,954.75 L662.47,955.80 L662.49,956.91 L662.51,958.08 L662.53,959.31 L662.55,960.59 L662.57,961.93 L662.59,963.31 L662.61,964.74 L662.63,966.21 L662.66,967.72 L662.68,969.27 L662.70,970.86 L662.72,972.48 L662.75,974.13 L662.77,975.80 L662.80,977.51 L662.82,979.23 L662.84,980.98 L662.87,982.74 L662.89,984.51 L662.92,986.30 L662.95,988.10 L662.97,989.90 L663.00,991.71 L663.03,993.52 L663.06,995.33 L663.08,997.14 L663.11,998.93 L663.14,1000.72 L663.17,1002.50 L663.20,1004.26 L663.24,1006.01 L663.27,1007.74 L663.30,1009.44 L663.33,1011.12 L663.37,1012.77 L663.40,1014.40 L663.44,1015.98 L663.47,1017.54 L663.51,1019.06 L663.55,1020.53 L663.58,1021.96 L663.62,1023.35 L663.66,1024.69 L663.70,1025.98 L663.74,1027.21 L663.79,1028.39 L663.83,1029.50 L663.87,1030.56 L663.92,1031.55 L663.96,1032.48 L664.01,1033.33 L664.05,1034.12 L664.10,1034.83 L664.15,1035.46 L664.20,1036.01 L664.25,1036.48 L664.30,1036.86 L664.35,1037.16 L664.41,1037.37 L664.46,1037.48 L664.52,1037.48 L664.59,1037.22 L664.67,1036.67 L664.76,1035.86 L664.87,1034.82 L664.98,1033.58 L665.11,1032.17 L665.24,1030.62 L665.38,1028.97 L665.52,1027.24 L665.67,1025.45 L665.81,1023.65 L665.96,1021.87 L666.11,1020.12 L666.26,1018.45 L666.41,1016.88 L666.55,1015.45 L666.69,1014.18 L666.82,1013.10 L666.94,1012.25 L667.05,1011.65 L667.15,1011.34 L667.24,1011.33 L667.33,1011.53 L667.40,1011.94 L667.46,1012.52 L667.52,1013.27 L667.57,1014.16 L667.61,1015.20 L667.65,1016.36 L667.69,1017.63 L667.73,1019.00 L667.76,1020.45 L667.80,1021.96 L667.84,1023.53 L667.88,1025.14 L667.92,1026.78 L667.96,1028.42 L668.02,1030.07 L668.08,1031.69 L668.14,1033.29 L668.22,1034.84 L668.30,1036.34 L668.40,1037.76 L668.51,1039.10 L668.63,1040.33 L668.76,1041.45 L668.91,1042.44 L669.08,1043.30 L669.81,1043.95 L671.15,1044.52 L671.77,1045.26 L672.09,1046.16 L672.36,1047.18 L672.57,1048.31 L672.74,1049.53 L672.88,1050.80 L673.02,1052.11 L673.15,1053.44 L673.29,1054.77 L673.46,1056.07 L673.67,1057.33 L673.93,1058.52 L674.23,1059.68 L674.57,1060.86 L674.94,1062.03 L675.35,1063.20 L675.79,1064.34 L676.26,1065.47 L676.77,1066.55 L677.32,1067.60 L677.91,1068.63 L678.64,1069.81 L679.48,1070.98 L680.35,1071.93 L681.20,1072.45 L682.01,1072.38 L682.86,1071.78 L683.00,1071.62 L683.12,1071.49 L683.24,1071.35 L683.36,1071.21 L683.47,1071.07 L683.59,1070.93 L683.71,1070.79 L683.83,1070.61 L683.95,1070.43 L684.07,1070.24 L684.19,1070.06 L684.31,1069.87 L684.42,1069.68 L684.54,1069.48 L684.66,1069.26 L684.78,1069.04 L684.90,1068.81 L685.02,1068.59 L685.14,1068.36 L685.25,1068.13 L685.37,1067.88 L685.49,1067.62 L685.61,1067.37 L685.73,1067.11 L685.85,1066.86 L685.97,1066.58 L686.08,1066.29 L686.20,1066.00 L686.32,1065.72 L686.44,1065.42 L686.56,1065.11 L686.68,1064.79 L686.80,1064.48 L686.92,1064.15 L687.03,1063.82 L687.15,1063.50 L687.27,1063.15 L687.39,1062.81 L687.51,1062.47 L687.63,1062.12 L687.75,1061.77 L687.86,1061.42 L687.98,1061.06 L688.10,1060.70 L688.22,1060.35 L688.34,1059.98 L688.46,1059.60 L688.58,1059.24 L688.69,1058.87 L688.81,1058.48 L688.93,1058.09 L689.05,1057.69 L689.17,1057.30 L689.29,1056.87 L689.41,1056.45 L689.53,1056.03 L689.64,1055.58 L689.76,1055.12 L689.88,1054.66 L690.00,1054.18 L690.27,1053.04 L690.59,1051.58 L690.90,1050.12 L691.19,1048.65 L691.47,1047.18 L691.74,1045.70 L692.01,1044.22 L692.27,1042.74 L692.53,1041.25 L692.79,1039.76 L693.04,1038.27 L693.29,1036.78 L693.54,1035.28 L693.79,1033.78 L694.04,1032.28 L694.28,1030.77 L694.52,1029.26 L694.75,1027.75 L694.99,1026.24 L695.22,1024.72 L695.45,1023.21 L695.68,1021.69 L695.91,1020.17 L696.13,1018.65 L696.35,1017.12 L696.58,1015.60 L696.80,1014.07 L697.01,1012.54 L697.23,1011.01 L697.44,1009.49 L697.66,1007.95 L697.87,1006.42 L698.08,1004.89 L698.29,1003.36 L698.50,1001.83 L698.70,1000.29 L698.91,998.76 L699.12,997.23 L699.32,995.69 L699.52,994.16 L699.73,992.63 L699.93,991.09 L700.13,989.56 L700.33,988.03 L700.53,986.50 L700.73,984.97 L700.93,983.44 L701.12,981.91 L701.32,980.37 L701.52,978.84 L701.71,977.31 L701.91,975.78 L702.10,974.26 L702.30,972.73 L702.49,971.20 L702.68,969.67 L702.88,968.14 L703.07,966.61 L703.26,965.08 L703.45,963.56 L703.64,962.03 L703.83,960.50 L704.02,958.98 L704.21,957.45 L704.39,955.92 L704.58,954.40 L704.77,952.87 L704.96,951.34 L705.14,949.82 L705.33,948.29 L705.51,946.77 L705.70,945.24 L705.88,943.72 L706.07,942.19 L706.25,940.67 L706.43,939.14 L706.62,937.62 L706.80,936.10 L706.98,934.57 L707.16,933.05 L707.35,931.52 L707.53,930.00 L707.71,928.48 L707.89,926.95 L708.07,925.43 L708.25,923.91 L708.43,922.38 L708.61,920.86 L708.79,919.34 L708.97,917.82 L709.15,916.29 L709.32,914.77 L709.50,913.25 L709.68,911.73 L709.86,910.20 L710.04,908.68 L710.21,907.16 L710.39,905.64 L710.57,904.12 L710.75,902.59 L710.92,901.07 L711.10,899.55 L711.28,898.03 L711.45,896.51 L711.63,894.98 L711.81,893.46 L711.98,891.94 L712.16,890.42 L712.34,888.90 L712.51,887.38 L712.69,885.85 L712.86,884.33 L713.04,882.81 L713.22,881.29 L713.39,879.77 L713.57,878.24 L713.75,876.72 L713.92,875.20 L714.10,873.68 L714.27,872.16 L714.45,870.63 L714.63,869.11 L714.80,867.59 L714.98,866.07 L715.16,864.54 L715.33,863.02 L715.51,861.50 L715.69,859.98 L715.87,858.45 L716.05,856.93 L716.23,855.41 L716.41,853.89 L716.59,852.36 L716.77,850.84 L716.95,849.32 L717.13,847.80 L717.32,846.27 L717.50,844.75 L717.68,843.23 L717.87,841.71 L718.06,840.18 L718.24,838.66 L718.43,837.14 L718.62,835.62 L718.81,834.09 L719.01,832.57 L719.20,831.05 L719.40,829.53 L719.59,828.00 L719.79,826.48 L719.99,824.96 L720.19,823.44 L720.39,821.91 L720.59,820.39 L720.80,818.87 L721.01,817.35 L721.22,815.83 L721.43,814.30 L721.64,812.78 L721.85,811.26 L722.07,809.74 L722.29,808.22 L722.50,806.70 L722.73,805.17 L722.95,803.65 L723.17,802.13 L723.40,800.61 L723.63,799.09 L723.86,797.57 L724.09,796.05 L724.33,794.53 L724.56,793.01 L724.80,791.49 L725.04,789.97 L725.28,788.45 L725.53,786.93 L725.77,785.41 L726.02,783.89 L726.27,782.37 L726.52,780.85 L726.78,779.33 L727.03,777.81 L727.29,776.29 L727.55,774.78 L727.82,773.26 L728.08,771.74 L728.35,770.22 L728.61,768.70 L728.89,767.19 L729.16,765.67 L729.43,764.15 L729.71,762.63 L729.99,761.12 L730.27,759.60 L730.55,758.09 L730.84,756.57 L731.13,755.05 L731.42,753.54 L731.71,752.02 L732.00,750.51 L732.30,748.99 L732.60,747.48 L732.90,745.96 L733.21,744.45 L733.52,742.94 L733.84,741.43 L734.17,739.93 L734.51,738.43 L734.86,736.93 L735.22,735.44 L735.59,733.96 L735.98,732.48 L736.38,731.00 L736.80,729.54 L737.23,728.08 L737.68,726.63 L738.15,725.19 L738.65,723.75 L739.16,722.33 L739.70,720.92 L740.26,719.52 L740.85,718.13 L741.47,716.75 L742.13,715.39 L742.84,714.04 L743.62,712.70 L744.46,711.38 L745.38,710.07 L746.39,708.78 L747.48,707.54 L748.64,706.40 L749.87,705.43 L751.14,704.69 L752.44,704.25 L753.75,704.16 L755.08,704.44 L756.39,705.03 L757.68,705.87 L758.93,706.88 L760.13,707.99 L761.27,709.15 L762.35,710.35 L763.37,711.57 L764.34,712.82 L765.27,714.10 L766.15,715.40 L766.99,716.72 L767.79,718.06 L768.56,719.41 L769.31,720.78 L770.03,722.16 L770.73,723.54 L771.42,724.93 L772.09,726.32 L772.76,727.72 L773.42,729.10 L774.09,730.49 L774.76,731.86 L775.44,733.23 L776.12,734.59 L776.81,735.94 L777.51,737.29 L778.21,738.63 L778.91,739.97 L779.62,741.31 L780.33,742.65 L781.05,743.99 L781.77,745.33 L782.49,746.68 L783.21,748.03 L783.93,749.38 L784.65,750.74 L785.38,752.10 L786.11,753.46 L786.85,754.81 L787.60,756.17 L788.36,757.52 L789.13,758.86 L789.91,760.20 L790.71,761.52 L791.52,762.84 L792.35,764.14 L793.19,765.43 L794.06,766.71 L794.95,767.97 L795.85,769.21 L796.78,770.43 L797.74,771.63 L798.72,772.81 L799.73,773.96 L800.77,775.09 L801.84,776.19 L802.94,777.26 L804.08,778.30 L805.25,779.31 L806.45,780.29 L807.69,781.23 L808.97,782.14 L810.29,782.99 L811.64,783.79 L813.02,784.51 L814.43,785.14 L815.87,785.66 L817.32,786.06 L818.79,786.33 L820.28,786.45 L821.78,786.43 L823.28,786.29 L824.79,786.05 L826.30,785.72 L827.82,785.32 L829.32,784.86 L830.82,784.37 L832.31,783.86 L833.79,783.34 L835.25,782.79 L836.70,782.23 L838.14,781.65 L839.56,781.06 L840.97,780.44 L842.36,779.81 L843.73,779.16 L845.10,778.49 L846.46,777.82 L847.81,777.14 L849.16,776.45 L850.51,775.77 L851.87,775.08 L853.23,774.41 L854.60,773.74 L855.99,773.08 L857.38,772.43 L858.80,771.80 L860.24,771.20 L861.69,770.61 L863.16,770.05 L864.65,769.52 L866.14,769.03 L867.64,768.57 L869.15,768.14 L870.67,767.76 L872.18,767.43 L873.70,767.14 L875.21,766.89 L876.73,766.68 L878.25,766.50 L879.76,766.37 L881.28,766.27 L882.80,766.20 L884.32,766.17 L885.84,766.16 L887.36,766.18 L888.88,766.23 L890.40,766.30 L891.92,766.39 L893.44,766.50 L894.96,766.62 L896.49,766.77 L898.01,766.92 L899.53,767.09 L901.06,767.27 L902.58,767.46 L904.10,767.65 L905.63,767.85 L907.15,768.05 L908.68,768.25 L910.21,768.45 L911.73,768.64 L913.26,768.83 L914.79,769.02 L916.32,769.19 L917.84,769.37 L919.37,769.53 L920.90,769.69 L922.43,769.84 L923.96,769.99 L925.49,770.13 L927.02,770.26 L928.55,770.39 L930.08,770.51 L931.61,770.63 L933.14,770.73 L934.67,770.84 L936.21,770.93 L937.74,771.02 L939.27,771.10 L940.80,771.18 L942.34,771.25 L943.87,771.31 L945.40,771.37 L946.94,771.42 L948.47,771.46 L950.00,771.50 L951.54,771.53 L953.07,771.55 L954.61,771.57 L956.14,771.58 L957.68,771.58 L959.21,771.58 L960.75,771.57 L962.28,771.56 L963.82,771.54 L965.35,771.52 L966.89,771.49 L968.42,771.45 L969.96,771.42 L971.50,771.38 L973.03,771.33 L974.57,771.29 L976.11,771.24 L977.64,771.19 L979.18,771.13 L980.72,771.08 L982.25,771.02 L983.79,770.97 L985.33,770.91 L986.86,770.85 L988.40,770.80 L989.94,770.74 L991.48,770.69 L993.01,770.64 L994.55,770.59 L996.09,770.54 L997.62,770.49 L999.16,770.45 L1000.70,770.41 L1002.24,770.37 L1003.77,770.34 L1005.31,770.31 L1006.85,770.29 L1008.38,770.27 L1009.92,770.26 L1011.46,770.25 L1012.99,770.25 L1014.53,770.25 L1016.07,770.25 L1017.60,770.26 L1019.14,770.27 L1020.68,770.28 L1022.21,770.30 L1023.75,770.32 L1025.29,770.34 L1026.82,770.36 L1028.36,770.38 L1029.89,770.40 L1031.43,770.43 L1032.96,770.45 L1034.50,770.47 L1036.03,770.49 L1037.57,770.52 L1039.10,770.53 L1040.64,770.55 L1042.17,770.57 L1043.71,770.58 L1045.24,770.59 L1046.78,770.60 L1048.31,770.60 L1049.84,770.60 L1051.38,770.59 L1052.91,770.58 L1054.44,770.57 L1055.97,770.54 L1057.51,770.52 L1059.04,770.49 L1060.57,770.45 L1062.10,770.40" stroke="#ff0000" stroke-width="1.9"/>
<path d="M659.75,1106.50 L659.78,1105.29 L659.82,1104.09 L659.85,1102.88 L659.89,1101.67 L659.92,1100.47 L659.96,1099.26 L659.99,1098.05 L660.02,1096.85 L660.06,1095.64 L660.09,1094.43 L660.13,1093.23 L660.16,1092.02 L660.19,1090.81 L660.23,1089.61 L660.26,1088.40 L660.29,1087.19 L660.32,1085.99 L660.35,1084.78 L660.39,1083.57 L660.42,1082.37 L660.45,1081.16 L660.48,1079.95 L660.51,1078.75 L660.54,1077.54 L660.57,1076.33 L660.59,1075.13 L660.62,1073.92 L660.65,1072.71 L660.68,1071.51 L660.70,1070.30 L660.73,1069.09 L660.75,1067.89 L660.78,1066.68 L660.80,1065.47 L660.82,1064.27 L660.85,1063.06 L660.87,1061.85 L660.89,1060.65 L660.91,1059.44 L660.93,1058.21 L660.95,1056.95 L660.97,1055.67 L660.99,1054.37 L661.00,1053.04 L661.02,1051.70 L661.04,1050.33 L661.06,1048.94 L661.07,1047.53 L661.09,1046.11 L661.11,1044.67 L661.12,1043.21 L661.14,1041.74 L661.15,1040.25 L661.17,1038.75 L661.18,1037.23 L661.20,1035.71 L661.21,1034.17 L661.23,1032.62 L661.24,1031.06 L661.26,1029.49 L661.27,1027.92 L661.28,1026.34 L661.30,1024.75 L661.31,1023.15 L661.32,1021.56 L661.34,1019.95 L661.35,1018.35 L661.36,1016.74 L661.37,1015.13 L661.38,1013.52 L661.40,1011.91 L661.41,1010.31 L661.42,1008.70 L661.43,1007.10 L661.44,1005.50 L661.46,1003.91 L661.47,1002.32 L661.48,1000.73 L661.49,999.16 L661.50,997.59 L661.51,996.03 L661.52,994.48 L661.53,992.95 L661.54,991.42 L661.56,989.90 L661.57,988.40 L661.58,986.92 L661.59,985.44 L661.60,983.98 L661.61,982.54 L661.62,981.12 L661.63,979.71 L661.65,978.33 L661.66,976.96 L661.67,975.61 L661.68,974.29 L661.69,972.98 L661.70,971.70 L661.71,970.45 L661.73,969.21 L661.74,968.01 L661.75,966.83 L661.76,965.68 L661.78,964.55 L661.79,963.46 L661.80,962.39 L661.81,961.36 L661.83,960.36 L661.84,959.38 L661.85,958.45 L661.87,957.54 L661.88,956.67 L661.89,955.84 L661.91,955.05 L661.92,954.29 L661.94,953.56 L661.95,952.88 L661.97,952.24 L661.98,951.64 L662.00,951.08 L662.01,950.56 L662.03,950.09 L662.05,949.66 L662.06,949.27 L662.08,948.93 L662.10,948.64 L662.12,948.40 L662.14,948.20 L662.15,948.05 L662.17,947.95 L662.19,947.90 L662.21,947.92 L662.23,948.02 L662.25,948.22 L662.27,948.51 L662.29,948.88 L662.31,949.34 L662.33,949.89 L662.35,950.51 L662.37,951.21 L662.39,951.99 L662.41,952.84 L662.43,953.76 L662.45,954.75 L662.47,955.80 L662.49,956.91 L662.51,958.08 L662.53,959.31 L662.55,960.59 L662.57,961.93 L662.59,963.31 L662.61,964.74 L662.63,966.21 L662.66,967.72 L662.68,969.27 L662.70,970.86 L662.72,972.48 L662.75,974.13 L662.77,975.80 L662.80,977.51 L662.82,979.23 L662.84,980.98 L662.87,982.74 L662.89,984.51 L662.92,986.30 L662.95,988.10 L662.97,989.90 L663.00,991.71 L663.03,993.52 L663.06,995.33 L663.08,997.14 L663.11,998.93 L663.14,1000.72 L663.17,1002.50 L663.20,1004.26 L663.24,1006.01 L663.27,1007.74 L663.30,1009.44 L663.33,1011.12 L663.37,1012.77 L663.40,1014.40 L663.44,1015.98 L663.47,1017.54 L663.51,1019.06 L663.55,1020.53 L663.58,1021.96 L663.62,1023.35 L663.66,1024.69 L663.70,1025.98 L663.74,1027.21 L663.79,1028.39 L663.83,1029.50 L663.87,1030.56 L663.92,1031.55 L663.96,1032.48 L664.01,1033.33 L664.05,1034.12 L664.10,1034.83 L664.15,1035.46 L664.20,1036.01 L664.25,1036.48 L664.30,1036.86 L664.35,1037.16 L664.41,1037.37 L664.46,1037.48 L664.52,1037.48 L664.59,1037.22 L664.67,1036.67 L664.76,1035.86 L664.87,1034.82 L664.98,1033.58 L665.11,1032.17 L665.24,1030.62 L665.38,1028.97 L665.52,1027.24 L665.67,1025.45 L665.81,1023.65 L665.96,1021.87 L666.11,1020.12 L666.26,1018.45 L666.41,1016.88 L666.55,1015.45 L666.69,1014.18 L666.82,1013.10 L666.94,1012.25 L667.05,1011.65 L667.15,1011.34 L667.24,1011.33 L667.33,1011.53 L667.40,1011.94 L667.46,1012.52 L667.52,1013.27 L667.57,1014.16 L667.61,1015.20 L667.65,1016.36 L667.69,1017.63 L667.73,1019.00 L667.76,1020.45 L667.80,1021.96 L667.84,1023.53 L667.88,1025.14 L667.92,1026.78 L667.96,1028.42 L668.02,1030.07 L668.08,1031.69 L668.14,1033.29 L668.22,1034.84 L668.30,1036.34 L668.40,1037.76 L668.51,1039.10 L668.63,1040.33 L668.76,1041.45 L668.91,1042.44 L669.08,1043.30 L669.81,1043.95 L671.15,1044.52 L671.77,1045.26 L672.09,1046.16 L672.36,1047.18 L672.57,1048.31 L672.74,1049.53 L672.88,1050.80 L673.02,1052.11 L673.15,1053.44 L673.29,1054.77 L673.46,1056.07 L673.67,1057.33 L673.93,1058.52 L674.23,1059.68 L674.57,1060.86 L674.94,1062.03 L675.35,1063.20 L675.79,1064.34 L676.26,1065.47 L676.77,1066.55 L677.32,1067.60 L677.91,1068.63 L678.64,1069.81 L679.48,1070.98 L680.35,1071.93 L681.20,1072.45 L682.01,1072.38 L682.86,1071.78 L683.00,1071.62 L683.12,1071.49 L683.24,1071.35 L683.36,1071.21 L683.47,1071.07 L683.59,1070.93 L683.71,1070.79 L683.83,1070.61 L683.95,1070.43 L684.07,1070.24 L684.19,1070.06 L684.31,1069.87 L684.42,1069.68 L684.54,1069.48 L684.66,1069.26 L684.78,1069.04 L684.90,1068.81 L685.02,1068.59 L685.14,1068.36 L685.25,1068.13 L685.37,1067.88 L685.49,1067.62 L685.61,1067.37 L685.73,1067.11 L685.85,1066.86 L685.97,1066.58 L686.08,1066.29 L686.20,1066.00 L686.32,1065.72 L686.44,1065.42 L686.56,1065.11 L686.68,1064.79 L686.80,1064.48 L686.92,1064.15 L687.03,1063.82 L687.15,1063.50 L687.27,1063.15 L687.39,1062.81 L687.51,1062.47 L687.63,1062.12 L687.75,1061.77 L687.86,1061.42 L687.98,1061.06 L688.10,1060.70 L688.22,1060.35 L688.34,1059.98 L688.46,1059.60 L688.58,1059.24 L688.69,1058.87 L688.81,1058.48 L688.93,1058.09 L689.05,1057.69 L689.17,1057.30 L689.29,1056.87 L689.41,1056.45 L689.53,1056.03 L689.64,1055.58 L689.76,1055.12 L689.88,1054.66 L690.00,1054.18 L690.27,1053.04 L690.59,1051.58 L690.90,1050.12 L691.19,1048.65 L691.47,1047.18 L691.74,1045.70 L692.01,1044.22 L692.27,1042.74 L692.53,1041.25 L692.79,1039.76 L693.04,1038.27 L693.29,1036.78 L693.54,1035.28 L693.79,1033.78 L694.04,1032.28 L694.28,1030.77 L694.52,1029.26 L694.75,1027.75 L694.99,1026.24 L695.22,1024.72 L695.45,1023.21 L695.68,1021.69 L695.91,1020.17 L696.13,1018.65 L696.35,1017.12 L696.58,1015.60 L696.80,1014.07 L697.01,1012.54 L697.23,1011.01 L697.44,1009.49 L697.66,1007.95 L697.87,1006.42 L698.08,1004.89 L698.29,1003.36 L698.50,1001.83 L698.70,1000.29 L698.91,998.76 L699.12,997.23 L699.32,995.69 L699.52,994.16 L699.73,992.63 L699.93,991.09 L700.13,989.56 L700.33,988.03 L700.53,986.50 L700.73,984.97 L700.93,983.44 L701.12,981.91 L701.32,980.37 L701.52,978.84 L701.71,977.31 L701.91,975.78 L702.10,974.26 L702.30,972.73 L702.49,971.20 L702.68,969.67 L702.88,968.14 L703.07,966.61 L703.26,965.08 L703.45,963.56 L703.64,962.03 L703.83,960.50 L704.02,958.98 L704.21,957.45 L704.39,955.92 L704.58,954.40 L704.77,952.87 L704.96,951.34 L705.14,949.82 L705.33,948.29 L705.51,946.77 L705.70,945.24 L705.88,943.72 L706.07,942.19 L706.25,940.67 L706.43,939.14 L706.62,937.62 L706.80,936.10 L706.98,934.57 L707.16,933.05 L707.35,931.52 L707.53,930.00 L707.71,928.48 L707.89,926.95 L708.07,925.43 L708.25,923.91 L708.43,922.38 L708.61,920.86 L708.79,919.34 L708.97,917.82 L709.15,916.29 L709.32,914.77 L709.50,913.25 L709.68,911.73 L709.86,910.20 L710.04,908.68 L710.21,907.16 L710.39,905.64 L710.57,904.12 L710.75,902.59 L710.92,901.07 L711.10,899.55 L711.28,898.03 L711.45,896.51 L711.63,894.98 L711.81,893.46 L711.98,891.94 L712.16,890.42 L712.34,888.90 L712.51,887.38 L712.69,885.85 L712.86,884.33 L713.04,882.81 L713.22,881.29 L713.39,879.77 L713.57,878.24 L713.75,876.72 L713.92,875.20 L714.10,873.68 L714.27,872.16 L714.45,870.63 L714.63,869.11 L714.80,867.59 L714.98,866.07 L715.16,864.54 L715.33,863.02 L715.51,861.50 L715.69,859.98 L715.87,858.45 L716.05,856.93 L716.23,855.41 L716.41,853.89 L716.59,852.36 L716.77,850.84 L716.95,849.32 L717.13,847.80 L717.32,846.27 L717.50,844.75 L717.68,843.23 L717.87,841.71 L718.06,840.18 L718.24,838.66 L718.43,837.14 L718.62,835.62 L718.81,834.09 L719.01,832.57 L719.20,831.05 L719.40,829.53 L719.59,828.00 L719.79,826.48 L719.99,824.96 L720.19,823.44 L720.39,821.91 L720.59,820.39 L720.80,818.87 L721.01,817.35 L721.22,815.83 L721.43,814.30 L721.64,812.78 L721.85,811.26 L722.07,809.74 L722.29,808.22 L722.50,806.70 L722.73,805.17 L722.95,803.65 L723.17,802.13 L723.40,800.61 L723.63,799.09 L723.86,797.57 L724.09,796.05 L724.33,794.53 L724.56,793.01 L724.80,791.49 L725.04,789.97 L725.28,788.45 L725.53,786.93 L725.77,785.41 L726.02,783.89 L726.27,782.37 L726.52,780.85 L726.78,779.33 L727.03,777.81 L727.29,776.29 L727.55,774.78 L727.82,773.26 L728.08,771.74 L728.35,770.22 L728.61,768.70 L728.89,767.19 L729.16,765.67 L729.43,764.15 L729.71,762.63 L729.99,761.12 L730.27,759.60 L730.55,758.09 L730.84,756.57 L731.13,755.05 L731.42,753.54 L731.71,752.02 L732.00,750.51 L732.30,748.99 L732.60,747.48 L732.90,745.96 L733.21,744.45 L733.52,742.94 L733.84,741.43 L734.17,739.93 L734.51,738.43 L734.86,736.93 L735.22,735.44 L735.59,733.96 L735.98,732.48 L736.38,731.00 L736.80,729.54 L737.23,728.08 L737.68,726.63 L738.15,725.19 L738.65,723.75 L739.16,722.33 L739.70,720.92 L740.26,719.52 L740.85,718.13 L741.47,716.75 L742.13,715.39 L742.84,714.04 L743.62,712.70 L744.46,711.38 L745.38,710.07 L746.39,708.78 L747.48,707.54 L748.64,706.40 L749.87,705.43 L751.14,704.69 L752.44,704.25 L753.75,704.16 L755.08,704.44 L756.39,705.03 L757.68,705.87 L758.93,706.88 L760.13,707.99 L761.27,709.15 L762.35,710.35 L763.37,711.57 L764.34,712.82 L765.27,714.10 L766.15,715.40 L766.99,716.72 L767.79,718.06 L768.56,719.41 L769.31,720.78 L770.03,722.16 L770.73,723.54 L771.42,724.93 L772.09,726.32 L772.76,727.72 L773.42,729.10 L774.09,730.49 L774.76,731.86 L775.44,733.23 L776.12,734.59 L776.81,735.94 L777.51,737.29 L778.21,738.63 L778.91,739.97 L779.62,741.31 L780.33,742.65 L781.05,743.99 L781.77,745.33 L782.49,746.68 L783.21,748.03 L783.93,749.38 L784.65,750.74 L785.38,752.10 L786.11,753.46 L786.85,754.81 L787.60,756.17 L788.36,757.52 L789.13,758.86 L789.91,760.20 L790.71,761.52 L791.52,762.84 L792.35,764.14 L793.19,765.43 L794.06,766.71 L794.95,767.97 L795.85,769.21 L796.78,770.43 L797.74,771.63 L798.72,772.81 L799.73,773.96 L800.77,775.09 L801.84,776.19 L802.94,777.26 L804.08,778.30 L805.25,779.31 L806.45,780.29 L807.69,781.23 L808.97,782.14 L810.29,782.99 L811.64,783.79 L813.02,784.51 L814.43,785.14 L815.87,785.66 L817.32,786.06 L818.79,786.33 L820.28,786.45 L821.78,786.43 L823.28,786.29 L824.79,786.05 L826.30,785.72 L827.82,785.32 L829.32,784.86 L830.82,784.37 L832.31,783.86 L833.79,783.34 L835.25,782.79 L836.70,782.23 L838.14,781.65 L839.56,781.06 L840.97,780.44 L842.36,779.81 L843.73,779.16 L845.10,778.49 L846.46,777.82 L847.81,777.14 L849.16,776.45 L850.51,775.77 L851.87,775.08 L853.23,774.41 L854.60,773.74 L855.99,773.08 L857.38,772.43 L858.80,771.80 L860.24,771.20 L861.69,770.61 L863.16,770.05 L864.65,769.52 L866.14,769.03 L867.64,768.57 L869.15,768.14 L870.67,767.76 L872.18,767.43 L873.70,767.14 L875.21,766.89 L876.73,766.68 L878.25,766.50 L879.76,766.37 L881.28,766.27 L882.80,766.20 L884.32,766.17 L885.84,766.16 L887.36,766.18 L888.88,766.23 L890.40,766.30 L891.92,766.39 L893.44,766.50 L894.96,766.62 L896.49,766.77 L898.01,766.92 L899.53,767.09 L901.06,767.27 L902.58,767.46 L904.10,767.65 L905.63,767.85 L907.15,768.05 L908.68,768.25 L910.21,768.45 L911.73,768.64 L913.26,768.83 L914.79,769.02 L916.32,769.19 L917.84,769.37 L919.37,769.53 L920.90,769.69 L922.43,769.84 L923.96,769.99 L925.49,770.13 L927.02,770.26 L928.55,770.39 L930.08,770.51 L931.61,770.63 L933.14,770.73 L934.67,770.84 L936.21,770.93 L937.74,771.02 L939.27,771.10 L940.80,771.18 L942.34,771.25 L943.87,771.31 L945.40,771.37 L946.94,771.42 L948.47,771.46 L950.00,771.50 L951.54,771.53 L953.07,771.55 L954.61,771.57 L956.14,771.58 L957.68,771.58 L959.21,771.58 L960.75,771.57 L962.28,771.56 L963.82,771.54 L965.35,771.52 L966.89,771.49 L968.42,771.45 L969.96,771.42 L971.50,771.38 L973.03,771.33 L974.57,771.29 L976.11,771.24 L977.64,771.19 L979.18,771.13 L980.72,771.08 L982.25,771.02 L983.79,770.97 L985.33,770.91 L986.86,770.85 L988.40,770.80 L989.94,770.74 L991.48,770.69 L993.01,770.64 L994.55,770.59 L996.09,770.54 L997.62,770.49 L999.16,770.45 L1000.70,770.41 L1002.24,770.37 L1003.77,770.34 L1005.31,770.31 L1006.85,770.29 L1008.38,770.27 L1009.92,770.26 L1011.46,770.25 L1012.99,770.25 L1014.53,770.25 L1016.07,770.25 L1017.60,770.26 L1019.14,770.27 L1020.68,770.28 L1022.21,770.30 L1023.75,770.32 L1025.29,770.34 L1026.82,770.36 L1028.36,770.38 L1029.89,770.40 L1031.43,770.43 L1032.96,770.45 L1034.50,770.47 L1036.03,770.49 L1037.57,770.52 L1039.10,770.53 L1040.64,770.55 L1042.17,770.57 L1043.71,770.58 L1045.24,770.59 L1046.78,770.60 L1048.31,770.60 L1049.84,770.60 L1051.38,770.59 L1052.91,770.58 L1054.44,770.57 L1055.97,770.54 L1057.51,770.52 L1059.04,770.49 L1060.57,770.45 L1062.10,770.40" stroke="#edb120" stroke-width="3.1" stroke-dasharray="13.3 13.56"/>
</g>
<text x="657.10" y="1136.30" font-size="22.2" text-anchor="middle">0</text>
<text x="738.07" y="1136.30" font-size="22.2" text-anchor="middle">1</text>
<text x="819.03" y="1136.30" font-size="22.2" text-anchor="middle">2</text>
<text x="900.00" y="1136.30" font-size="22.2" text-anchor="middle">3</text>
<text x="980.96" y="1136.30" font-size="22.2" text-anchor="middle">4</text>
<text x="1061.93" y="1136.30" font-size="22.2" text-anchor="middle">5</text>
<text x="649.95" y="665.85" font-size="22.2" text-anchor="end">4</text>
<text x="649.95" y="722.23" font-size="22.2" text-anchor="end">2</text>
<text x="649.95" y="778.61" font-size="22.2" text-anchor="end">0</text>
<text x="649.95" y="834.99" font-size="22.2" text-anchor="end">-2</text>
<text x="649.95" y="891.38" font-size="22.2" text-anchor="end">-4</text>
<text x="649.95" y="947.76" font-size="22.2" text-anchor="end">-6</text>
<text x="649.95" y="1004.14" font-size="22.2" text-anchor="end">-8</text>
<text x="649.95" y="1060.52" font-size="22.2" text-anchor="end">-10</text>
<text x="649.95" y="1116.90" font-size="22.2" text-anchor="end">-12</text>
<path d="M660.85,642.35L671.25,652.75M660.85,652.75L671.25,642.35" stroke="#262626" stroke-width="0.95" fill="none"/>
<text x="675.15" y="652.45" font-size="22.2">10</text>
<text x="697.95" y="641.85" font-size="17.4">5</text>
<text x="859.02" y="1164.50" font-size="24.0" letter-spacing="0.17" text-anchor="middle">Time (s)</text>
<text transform="translate(611.4,885.67) rotate(-90)" font-size="24.0" letter-spacing="0.27" text-anchor="middle">Velocity of Seat System (m/s)</text>
<path d="M847.78,679.80H881.33" stroke="#ff0000" stroke-width="1.9"/>
<path d="M847.78,703.15H881.33" stroke="#edb120" stroke-width="2.9" stroke-dasharray="13.2 13.8"/>
<text x="883.78" y="687.25" font-size="20.0" fill="#0c0c0c">Compared Control 3</text>
<text x="883.78" y="710.45" font-size="20.0" fill="#0c0c0c">Observer</text>
<text x="190.4" y="606.4" font-size="29" text-anchor="middle" fill="#000">(<tspan font-weight="bold">a</tspan>)</text>
<text x="882.4" y="606.6" font-size="29" text-anchor="middle" fill="#000">(<tspan font-weight="bold">b</tspan>)</text>
<text x="190.4" y="1218.3" font-size="29" text-anchor="middle" fill="#000">(<tspan font-weight="bold">c</tspan>)</text>
<text x="882.4" y="1218.5" font-size="29" text-anchor="middle" fill="#000">(<tspan font-weight="bold">d</tspan>)</text>
</svg>
</body></html>
